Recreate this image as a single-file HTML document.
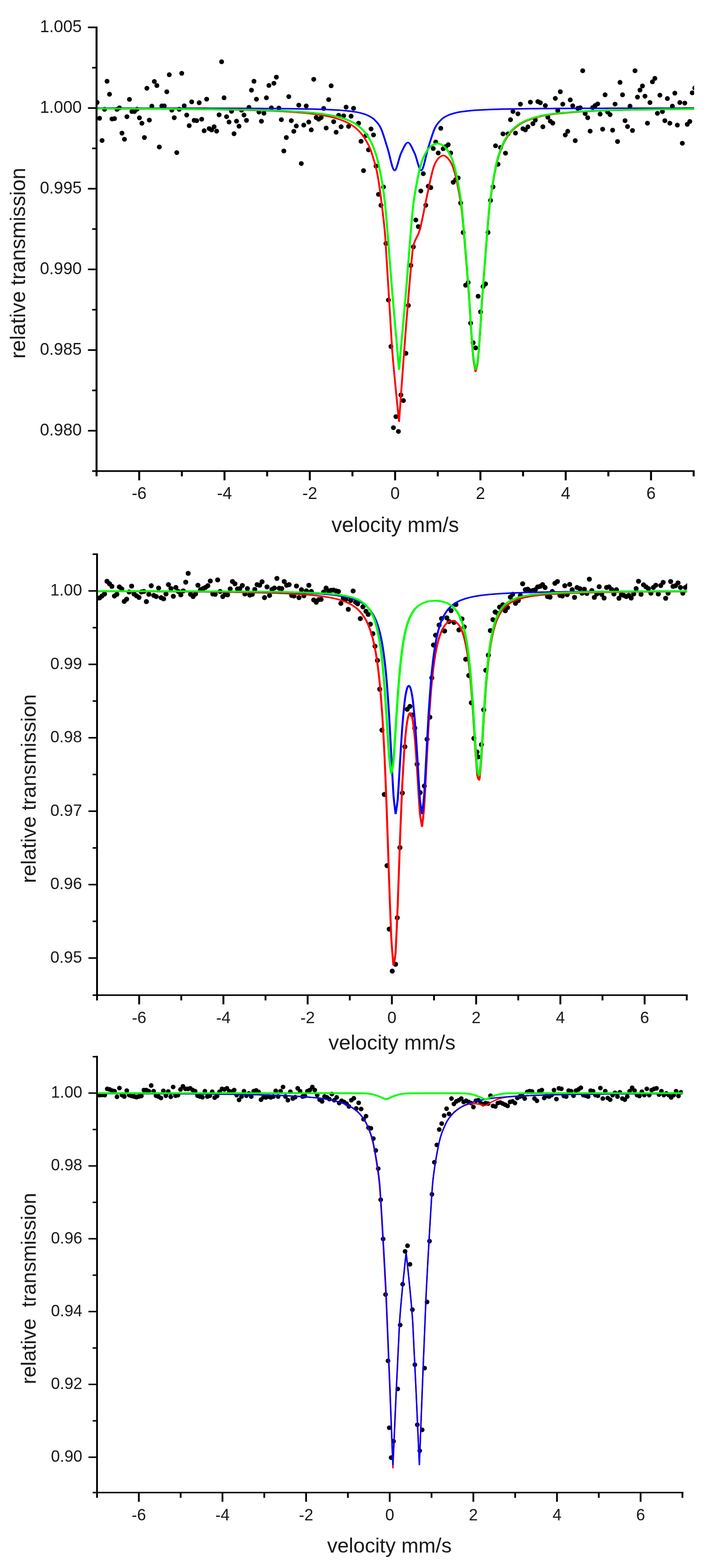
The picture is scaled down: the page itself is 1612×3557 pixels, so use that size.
<!DOCTYPE html>
<html lang="en">
<head>
<meta charset="utf-8">
<title>Moessbauer spectra</title>
<style>
html,body{margin:0;padding:0;background:#fff;}
body{width:1612px;height:3557px;overflow:hidden;}
svg{display:block;}
text{font-family:"Liberation Sans", Arial, Helvetica, sans-serif;fill:#1a1a1a;}
.axes line{stroke:#000;stroke-width:4.0;stroke-linecap:butt;}
.axes line.h{stroke-width:3.7;}
.axes line.v{stroke-width:4.5;}
.ax2 line.h{stroke-width:3.5;}
.ax2 line.v{stroke-width:4.2;}
.ax3 line.h{stroke-width:3.3;}
.ax3 line.v{stroke-width:4.0;}
.dots circle{fill:#000;}
.curve{fill:none;stroke-linejoin:bevel;stroke-linecap:butt;}
</style>
</head>
<body>
<svg width="1612" height="3557" viewBox="0 0 1612 3557">
<rect width="1612" height="3557" fill="#ffffff"/>
<g class="panel" id="panel1">
<clipPath id="clip1"><rect x="218.9" y="32.1" width="1354.8" height="1036.5"/></clipPath>
<g class="dots" clip-path="url(#clip1)">
<circle cx="220.1" cy="232.3" r="5.5"/><circle cx="225.7" cy="268.3" r="5.5"/><circle cx="231.4" cy="318.7" r="5.5"/><circle cx="237" cy="248" r="5.5"/><circle cx="242.7" cy="184.3" r="5.5"/><circle cx="248.3" cy="213.8" r="5.5"/><circle cx="253.9" cy="269.9" r="5.5"/><circle cx="259.6" cy="269.1" r="5.5"/><circle cx="265.2" cy="248" r="5.5"/><circle cx="270.9" cy="244.7" r="5.5"/><circle cx="276.5" cy="302" r="5.5"/><circle cx="282.2" cy="315.9" r="5.5"/><circle cx="287.8" cy="264.7" r="5.5"/><circle cx="293.5" cy="225.4" r="5.5"/><circle cx="299.1" cy="252.9" r="5.5"/><circle cx="304.8" cy="252.9" r="5.5"/><circle cx="310.4" cy="247.8" r="5.5"/><circle cx="316.1" cy="267.3" r="5.5"/><circle cx="321.7" cy="279.6" r="5.5"/><circle cx="327.4" cy="312" r="5.5"/><circle cx="333" cy="200.2" r="5.5"/><circle cx="338.6" cy="272.4" r="5.5"/><circle cx="344.3" cy="240.8" r="5.5"/><circle cx="349.9" cy="184.8" r="5.5"/><circle cx="355.6" cy="194" r="5.5"/><circle cx="361.2" cy="333.4" r="5.5"/><circle cx="366.9" cy="240.3" r="5.5"/><circle cx="372.5" cy="240.3" r="5.5"/><circle cx="378.2" cy="208.2" r="5.5"/><circle cx="383.8" cy="169.4" r="5.5"/><circle cx="389.5" cy="249.8" r="5.5"/><circle cx="395.1" cy="267" r="5.5"/><circle cx="400.8" cy="346.2" r="5.5"/><circle cx="406.4" cy="248" r="5.5"/><circle cx="412" cy="166.3" r="5.5"/><circle cx="417.7" cy="240.1" r="5.5"/><circle cx="423.3" cy="261.1" r="5.5"/><circle cx="429" cy="285" r="5.5"/><circle cx="434.6" cy="231.1" r="5.5"/><circle cx="440.3" cy="273" r="5.5"/><circle cx="445.9" cy="273.7" r="5.5"/><circle cx="451.6" cy="233.1" r="5.5"/><circle cx="457.2" cy="270.4" r="5.5"/><circle cx="462.9" cy="296.6" r="5.5"/><circle cx="468.5" cy="224.9" r="5.5"/><circle cx="474.2" cy="291.7" r="5.5"/><circle cx="479.8" cy="294.8" r="5.5"/><circle cx="485.4" cy="287.6" r="5.5"/><circle cx="491.1" cy="297.4" r="5.5"/><circle cx="496.7" cy="260.4" r="5.5"/><circle cx="502.4" cy="140.1" r="5.5"/><circle cx="508" cy="221.8" r="5.5"/><circle cx="513.7" cy="264.7" r="5.5"/><circle cx="519.3" cy="276.8" r="5.5"/><circle cx="525" cy="252.4" r="5.5"/><circle cx="530.6" cy="303.3" r="5.5"/><circle cx="536.3" cy="274.8" r="5.5"/><circle cx="541.9" cy="286.3" r="5.5"/><circle cx="547.6" cy="249.8" r="5.5"/><circle cx="553.2" cy="260.9" r="5.5"/><circle cx="558.8" cy="273" r="5.5"/><circle cx="564.5" cy="243.4" r="5.5"/><circle cx="570.1" cy="204.6" r="5.5"/><circle cx="575.8" cy="184.3" r="5.5"/><circle cx="581.4" cy="225.1" r="5.5"/><circle cx="587.1" cy="254.2" r="5.5"/><circle cx="592.7" cy="275" r="5.5"/><circle cx="598.4" cy="256.8" r="5.5"/><circle cx="604" cy="221.8" r="5.5"/><circle cx="609.7" cy="193.8" r="5.5"/><circle cx="615.3" cy="244.7" r="5.5"/><circle cx="621" cy="188.9" r="5.5"/><circle cx="626.6" cy="175" r="5.5"/><circle cx="632.3" cy="245.2" r="5.5"/><circle cx="637.9" cy="271.4" r="5.5"/><circle cx="643.5" cy="342.4" r="5.5"/><circle cx="649.2" cy="312" r="5.5"/><circle cx="654.8" cy="219.2" r="5.5"/><circle cx="660.5" cy="273.7" r="5.5"/><circle cx="666.1" cy="297.9" r="5.5"/><circle cx="671.8" cy="285.8" r="5.5"/><circle cx="677.4" cy="238.5" r="5.5"/><circle cx="683.1" cy="370.9" r="5.5"/><circle cx="688.7" cy="283.8" r="5.5"/><circle cx="694.4" cy="240.3" r="5.5"/><circle cx="700" cy="276.8" r="5.5"/><circle cx="705.7" cy="294.6" r="5.5"/><circle cx="711.3" cy="179.9" r="5.5"/><circle cx="716.9" cy="266.5" r="5.5"/><circle cx="722.6" cy="270.4" r="5.5"/><circle cx="728.2" cy="266.5" r="5.5"/><circle cx="733.9" cy="246" r="5.5"/><circle cx="739.5" cy="290.4" r="5.5"/><circle cx="745.2" cy="225.9" r="5.5"/><circle cx="750.8" cy="194.6" r="5.5"/><circle cx="756.5" cy="276" r="5.5"/><circle cx="762.1" cy="299.9" r="5.5"/><circle cx="767.8" cy="261.4" r="5.5"/><circle cx="773.4" cy="287.6" r="5.5"/><circle cx="779.1" cy="262.7" r="5.5"/><circle cx="784.7" cy="243" r="5.5"/><circle cx="790.3" cy="286.7" r="5.5"/><circle cx="796" cy="263.6" r="5.5"/><circle cx="801.6" cy="245.6" r="5.5"/><circle cx="812.9" cy="279.5" r="5.5"/><circle cx="818.6" cy="320.6" r="5.5"/><circle cx="824.2" cy="387" r="5.5"/><circle cx="829.9" cy="307.3" r="5.5"/><circle cx="835.5" cy="339.9" r="5.5"/><circle cx="841.2" cy="292.4" r="5.5"/><circle cx="846.8" cy="306" r="5.5"/><circle cx="852.5" cy="376.7" r="5.5"/><circle cx="858.1" cy="440.9" r="5.5"/><circle cx="863.7" cy="465.7" r="5.5"/><circle cx="869.4" cy="424.2" r="5.5"/><circle cx="875" cy="552.3" r="5.5"/><circle cx="880.7" cy="680.7" r="5.5"/><circle cx="886.3" cy="786.1" r="5.5"/><circle cx="892" cy="970.2" r="5.5"/><circle cx="897.6" cy="945.2" r="5.5"/><circle cx="903.3" cy="978.7" r="5.5"/><circle cx="908.9" cy="895.9" r="5.5"/><circle cx="914.6" cy="908.7" r="5.5"/><circle cx="920.2" cy="801.5" r="5.5"/><circle cx="925.9" cy="692.8" r="5.5"/><circle cx="931.5" cy="602" r="5.5"/><circle cx="937.2" cy="560" r="5.5"/><circle cx="942.8" cy="499.1" r="5.5"/><circle cx="948.4" cy="514" r="5.5"/><circle cx="954.1" cy="433.2" r="5.5"/><circle cx="959.7" cy="393.9" r="5.5"/><circle cx="965.4" cy="465.7" r="5.5"/><circle cx="971" cy="422.4" r="5.5"/><circle cx="976.7" cy="425.5" r="5.5"/><circle cx="982.3" cy="336.8" r="5.5"/><circle cx="988" cy="322.2" r="5.5"/><circle cx="993.6" cy="347.1" r="5.5"/><circle cx="999.3" cy="291.1" r="5.5"/><circle cx="1004.9" cy="337.3" r="5.5"/><circle cx="1010.6" cy="332.5" r="5.5"/><circle cx="1016.2" cy="328.3" r="5.5"/><circle cx="1021.8" cy="347.1" r="5.5"/><circle cx="1027.5" cy="413.4" r="5.5"/><circle cx="1033.1" cy="407.5" r="5.5"/><circle cx="1038.8" cy="403.7" r="5.5"/><circle cx="1044.4" cy="460.5" r="5.5"/><circle cx="1050.1" cy="527.3" r="5.5"/><circle cx="1055.7" cy="647" r="5.5"/><circle cx="1061.4" cy="640.8" r="5.5"/><circle cx="1067" cy="733.1" r="5.5"/><circle cx="1072.7" cy="777.5" r="5.5"/><circle cx="1078.3" cy="789.1" r="5.5"/><circle cx="1084" cy="672.1" r="5.5"/><circle cx="1089.6" cy="707.4" r="5.5"/><circle cx="1095.2" cy="650" r="5.5"/><circle cx="1100.9" cy="644" r="5.5"/><circle cx="1106.5" cy="527.3" r="5.5"/><circle cx="1112.2" cy="454.6" r="5.5"/><circle cx="1117.8" cy="424" r="5.5"/><circle cx="1123.5" cy="330.7" r="5.5"/><circle cx="1129.1" cy="372.6" r="5.5"/><circle cx="1134.8" cy="334.5" r="5.5"/><circle cx="1140.4" cy="303.7" r="5.5"/><circle cx="1146.1" cy="347.4" r="5.5"/><circle cx="1151.7" cy="303.7" r="5.5"/><circle cx="1157.4" cy="271.5" r="5.5"/><circle cx="1163" cy="252.8" r="5.5"/><circle cx="1168.7" cy="301.9" r="5.5"/><circle cx="1174.3" cy="258.2" r="5.5"/><circle cx="1179.9" cy="236.3" r="5.5"/><circle cx="1185.6" cy="292.1" r="5.5"/><circle cx="1191.2" cy="294.7" r="5.5"/><circle cx="1196.9" cy="287.7" r="5.5"/><circle cx="1202.5" cy="231.7" r="5.5"/><circle cx="1208.2" cy="280.5" r="5.5"/><circle cx="1213.8" cy="272.3" r="5.5"/><circle cx="1219.5" cy="230.4" r="5.5"/><circle cx="1225.1" cy="233" r="5.5"/><circle cx="1230.8" cy="287.5" r="5.5"/><circle cx="1236.4" cy="239.4" r="5.5"/><circle cx="1242.1" cy="265.9" r="5.5"/><circle cx="1247.7" cy="274.9" r="5.5"/><circle cx="1253.3" cy="279.3" r="5.5"/><circle cx="1259" cy="223.2" r="5.5"/><circle cx="1264.6" cy="251" r="5.5"/><circle cx="1270.3" cy="208" r="5.5"/><circle cx="1275.9" cy="236.3" r="5.5"/><circle cx="1281.6" cy="306.2" r="5.5"/><circle cx="1287.2" cy="297.8" r="5.5"/><circle cx="1292.9" cy="226.6" r="5.5"/><circle cx="1298.5" cy="239.9" r="5.5"/><circle cx="1304.2" cy="319.1" r="5.5"/><circle cx="1309.8" cy="245.8" r="5.5"/><circle cx="1315.5" cy="244.4" r="5.5"/><circle cx="1321.1" cy="160.4" r="5.5"/><circle cx="1326.7" cy="257.5" r="5.5"/><circle cx="1332.4" cy="267" r="5.5"/><circle cx="1338" cy="297.4" r="5.5"/><circle cx="1343.7" cy="243.9" r="5.5"/><circle cx="1349.3" cy="239.5" r="5.5"/><circle cx="1355" cy="235.7" r="5.5"/><circle cx="1360.6" cy="258.8" r="5.5"/><circle cx="1366.3" cy="293" r="5.5"/><circle cx="1371.9" cy="215.1" r="5.5"/><circle cx="1377.6" cy="254.2" r="5.5"/><circle cx="1383.2" cy="260.1" r="5.5"/><circle cx="1388.9" cy="295.3" r="5.5"/><circle cx="1394.5" cy="236.2" r="5.5"/><circle cx="1400.1" cy="321" r="5.5"/><circle cx="1405.8" cy="186.8" r="5.5"/><circle cx="1411.4" cy="215.1" r="5.5"/><circle cx="1417.1" cy="273.7" r="5.5"/><circle cx="1422.7" cy="287.1" r="5.5"/><circle cx="1428.4" cy="240.8" r="5.5"/><circle cx="1434" cy="296.1" r="5.5"/><circle cx="1439.7" cy="160.4" r="5.5"/><circle cx="1445.3" cy="220.3" r="5.5"/><circle cx="1451" cy="204.3" r="5.5"/><circle cx="1456.6" cy="195.1" r="5.5"/><circle cx="1462.3" cy="218.2" r="5.5"/><circle cx="1467.9" cy="279.4" r="5.5"/><circle cx="1473.6" cy="232.6" r="5.5"/><circle cx="1479.2" cy="185.6" r="5.5"/><circle cx="1484.8" cy="177.8" r="5.5"/><circle cx="1490.5" cy="257" r="5.5"/><circle cx="1496.1" cy="215.9" r="5.5"/><circle cx="1501.8" cy="253.2" r="5.5"/><circle cx="1507.4" cy="273.7" r="5.5"/><circle cx="1513.1" cy="223.6" r="5.5"/><circle cx="1518.7" cy="279.4" r="5.5"/><circle cx="1524.4" cy="240.8" r="5.5"/><circle cx="1530" cy="211.3" r="5.5"/><circle cx="1535.7" cy="283.8" r="5.5"/><circle cx="1541.3" cy="232.6" r="5.5"/><circle cx="1547" cy="324.9" r="5.5"/><circle cx="1552.6" cy="233.9" r="5.5"/><circle cx="1558.2" cy="282" r="5.5"/><circle cx="1563.9" cy="275.5" r="5.5"/><circle cx="1569.5" cy="210.5" r="5.5"/><circle cx="1575.2" cy="199.7" r="5.5"/>
</g>
<g clip-path="url(#clip1)"><path class="curve" transform="scale(1.2 1)" stroke="#ff0000" stroke-width="3.5" d="M175.68 246.42C177.87 246.43 184.44 246.46 188.83 246.48C193.21 246.5 197.59 246.52 201.97 246.54C206.35 246.56 210.73 246.59 215.11 246.61C219.49 246.63 223.87 246.65 228.25 246.68C232.63 246.7 237.01 246.73 241.39 246.75C245.77 246.78 250.15 246.81 254.53 246.84C258.91 246.86 263.29 246.89 267.68 246.92C272.06 246.95 276.44 246.98 280.82 247.02C285.2 247.05 289.58 247.08 293.96 247.12C298.34 247.16 302.72 247.19 307.1 247.23C311.48 247.27 315.86 247.31 320.24 247.35C324.62 247.39 329 247.44 333.38 247.48C337.76 247.53 342.14 247.57 346.53 247.62C350.91 247.67 355.29 247.73 359.67 247.78C364.05 247.84 368.43 247.89 372.81 247.95C377.19 248.01 381.57 248.07 385.95 248.14C390.33 248.21 394.71 248.28 399.09 248.35C403.47 248.42 407.85 248.5 412.23 248.58C416.61 248.66 420.99 248.75 425.38 248.84C429.76 248.93 434.14 249.02 438.52 249.13C442.9 249.23 447.28 249.33 451.66 249.45C456.04 249.56 460.42 249.68 464.8 249.81C469.18 249.94 473.56 250.08 477.94 250.23C482.32 250.38 486.7 250.53 491.08 250.7C495.46 250.87 499.84 251.05 504.23 251.24C508.61 251.44 512.99 251.64 517.37 251.87C521.75 252.1 526.13 252.34 530.51 252.61C534.89 252.87 539.27 253.16 543.65 253.47C548.03 253.79 552.41 254.12 556.79 254.5C561.17 254.88 565.55 255.28 569.93 255.74C574.31 256.2 578.69 256.69 583.08 257.25C587.46 257.82 591.84 258.42 596.22 259.13C600.6 259.84 604.98 260.6 609.36 261.5C613.74 262.4 618.12 263.37 622.5 264.56C626.88 265.74 631.26 267.01 635.64 268.6C640.02 270.2 644.4 271.9 648.78 274.12C653.16 276.35 657.54 278.7 661.93 281.95C666.31 285.2 670.69 288.59 675.07 293.61C679.45 298.64 683.83 303.72 688.21 312.09C692.59 320.46 696.97 328.45 701.35 343.83C705.73 359.22 711.86 385.42 714.49 404.4C717.12 423.38 725.01 495.01 727.63 533.64C730.26 572.28 738.15 748.44 740.78 790.76C743.4 833.07 753.92 956.81 753.92 956.81C753.92 956.81 764.43 781.12 767.06 741.74C769.69 702.37 777.57 585.17 780.2 563.08C782.83 541 788.96 540.45 793.34 520.91C797.72 501.37 802.1 469.68 806.48 445.85C810.86 422.03 815.24 393.16 819.63 377.95C824.01 362.73 828.39 357.77 832.77 354.58C837.15 351.38 841.53 352.64 845.91 358.78C850.29 364.92 854.67 371.99 859.05 391.43C863.43 410.86 869.56 448.49 872.19 475.41C874.82 502.34 883.58 633.86 885.33 660.64C887.09 687.43 888.88 728.07 889.75 743.24C890.63 758.41 893.21 802.29 894.08 812.32C894.96 822.35 898.48 843.54 898.48 843.54C898.48 843.54 902.04 828.49 902.92 819.46C903.79 810.42 906.38 768.14 907.25 753.18C908.12 738.23 909.87 698.13 911.62 669.88C913.37 641.62 922.13 500.29 924.76 470.64C927.39 440.99 935.27 387.81 937.9 373.38C940.53 358.95 946.66 338.39 951.04 326.34C955.42 314.29 959.8 307.78 964.18 301.08C968.56 294.39 972.94 290.23 977.33 286.15C981.71 282.07 986.09 279.27 990.47 276.6C994.85 273.94 999.23 271.98 1003.61 270.13C1007.99 268.29 1012.37 266.87 1016.75 265.53C1021.13 264.2 1025.51 263.14 1029.89 262.14C1034.27 261.14 1038.65 260.32 1043.03 259.56C1047.41 258.79 1051.79 258.15 1056.18 257.54C1060.56 256.94 1064.94 256.42 1069.32 255.94C1073.7 255.45 1078.08 255.03 1082.46 254.64C1086.84 254.24 1091.22 253.89 1095.6 253.56C1099.98 253.24 1104.36 252.94 1108.74 252.67C1113.12 252.39 1117.5 252.15 1121.88 251.91C1126.26 251.68 1130.64 251.47 1135.03 251.27C1139.41 251.07 1143.79 250.89 1148.17 250.72C1152.55 250.54 1156.93 250.39 1161.31 250.24C1165.69 250.09 1170.07 249.95 1174.45 249.82C1178.83 249.69 1183.21 249.56 1187.59 249.45C1191.97 249.33 1196.35 249.22 1200.73 249.12C1205.11 249.02 1209.49 248.92 1213.88 248.83C1218.26 248.74 1222.64 248.66 1227.02 248.57C1231.4 248.49 1235.78 248.42 1240.16 248.34C1244.54 248.27 1248.92 248.2 1253.3 248.13C1257.68 248.07 1262.06 248 1266.44 247.94C1270.82 247.88 1275.2 247.83 1279.58 247.77C1283.96 247.72 1288.34 247.67 1292.73 247.62C1297.11 247.57 1301.49 247.52 1305.87 247.47C1310.25 247.43 1316.82 247.36 1319.01 247.34"/></g>
<g clip-path="url(#clip1)"><path class="curve" transform="scale(1.2 1)" stroke="#0000ff" stroke-width="3.5" d="M171.42 245.31C173.54 245.31 179.92 245.31 184.17 245.32C188.42 245.32 192.67 245.32 196.92 245.33C201.17 245.33 205.42 245.33 209.67 245.34C213.92 245.34 218.17 245.34 222.42 245.35C226.67 245.35 230.92 245.35 235.17 245.36C239.42 245.36 243.67 245.37 247.92 245.37C252.17 245.38 256.42 245.38 260.67 245.39C264.92 245.39 269.17 245.4 273.42 245.4C277.67 245.41 281.92 245.41 286.17 245.42C290.42 245.42 294.67 245.43 298.92 245.43C303.17 245.44 307.42 245.45 311.67 245.45C315.92 245.46 320.17 245.47 324.42 245.47C328.67 245.48 332.92 245.49 337.17 245.5C341.42 245.5 345.67 245.51 349.92 245.52C354.17 245.53 358.42 245.54 362.67 245.55C366.92 245.56 371.17 245.57 375.42 245.58C379.67 245.59 383.92 245.6 388.17 245.61C392.42 245.62 396.67 245.63 400.92 245.65C405.17 245.66 409.42 245.67 413.67 245.69C417.92 245.7 422.17 245.72 426.42 245.73C430.67 245.75 434.92 245.76 439.17 245.78C443.42 245.8 447.67 245.82 451.92 245.84C456.17 245.86 460.42 245.88 464.67 245.9C468.92 245.93 473.17 245.95 477.42 245.98C481.67 246 485.92 246.03 490.17 246.06C494.42 246.09 498.67 246.12 502.92 246.15C507.17 246.19 511.42 246.23 515.67 246.27C519.92 246.31 524.17 246.35 528.42 246.39C532.67 246.44 536.92 246.49 541.17 246.55C545.42 246.6 549.67 246.66 553.92 246.73C558.17 246.8 562.42 246.87 566.67 246.95C570.92 247.03 575.17 247.11 579.42 247.21C583.67 247.31 587.92 247.42 592.17 247.54C596.42 247.67 600.67 247.8 604.92 247.96C609.17 248.11 613.42 248.28 617.67 248.49C621.92 248.69 626.17 248.91 630.42 249.18C634.67 249.46 638.92 249.75 643.17 250.13C647.42 250.5 651.67 250.9 655.92 251.45C660.17 251.99 664.42 252.56 668.67 253.38C672.92 254.2 677.17 255.04 681.42 256.39C685.67 257.74 689.92 259.03 694.17 261.45C698.42 263.87 702.67 265.97 706.92 270.91C711.17 275.85 715.42 280.07 719.67 291.1C723.92 302.12 728.17 321.13 732.42 337.05C736.67 352.98 740.92 384.99 745.17 386.65C749.42 388.31 753.67 357.61 757.92 347.03C762.17 336.45 766.42 323.04 770.67 323.18C774.92 323.32 779.17 337.3 783.42 347.87C787.67 358.44 791.92 388.57 796.17 386.58C800.42 384.6 804.67 351.94 808.92 335.94C813.17 319.94 817.42 301.45 821.67 290.57C825.92 279.7 830.17 275.56 834.42 270.68C838.67 265.81 842.92 263.73 847.17 261.33C851.42 258.94 855.67 257.66 859.92 256.32C864.17 254.99 868.42 254.16 872.67 253.34C876.92 252.52 881.17 251.96 885.42 251.42C889.67 250.88 893.92 250.48 898.17 250.11C902.42 249.73 906.67 249.44 910.92 249.17C915.17 248.9 919.42 248.68 923.67 248.48C927.92 248.27 932.17 248.1 936.42 247.95C940.67 247.79 944.92 247.66 949.17 247.54C953.42 247.41 957.67 247.31 961.92 247.21C966.17 247.11 970.42 247.02 974.67 246.94C978.92 246.86 983.17 246.79 987.42 246.73C991.67 246.66 995.92 246.6 1000.17 246.54C1004.42 246.49 1008.67 246.44 1012.92 246.39C1017.17 246.35 1021.42 246.3 1025.67 246.26C1029.92 246.22 1034.17 246.19 1038.42 246.15C1042.67 246.12 1046.92 246.09 1051.17 246.06C1055.42 246.03 1059.67 246 1063.92 245.97C1068.17 245.95 1072.42 245.92 1076.67 245.9C1080.92 245.88 1085.17 245.86 1089.42 245.84C1093.67 245.82 1097.92 245.8 1102.17 245.78C1106.42 245.76 1110.67 245.75 1114.92 245.73C1119.17 245.72 1123.42 245.7 1127.67 245.69C1131.92 245.67 1136.17 245.66 1140.42 245.65C1144.67 245.63 1148.92 245.62 1153.17 245.61C1157.42 245.6 1161.67 245.59 1165.92 245.58C1170.17 245.57 1174.42 245.56 1178.67 245.55C1182.92 245.54 1187.17 245.53 1191.42 245.52C1195.67 245.51 1199.92 245.5 1204.17 245.5C1208.42 245.49 1212.67 245.48 1216.92 245.47C1221.17 245.47 1225.42 245.46 1229.67 245.45C1233.92 245.45 1238.17 245.44 1242.42 245.43C1246.67 245.43 1250.92 245.42 1255.17 245.42C1259.42 245.41 1263.67 245.41 1267.92 245.4C1272.17 245.4 1276.42 245.39 1280.67 245.39C1284.92 245.38 1289.17 245.38 1293.42 245.37C1297.67 245.37 1301.92 245.36 1306.17 245.36C1310.42 245.35 1316.79 245.35 1318.92 245.35"/></g>
<g clip-path="url(#clip1)"><path class="curve" transform="scale(1.2 1)" stroke="#00ff00" stroke-width="3.9" d="M175.68 246.21C177.87 246.22 184.44 246.24 188.83 246.26C193.21 246.28 197.59 246.29 201.97 246.31C206.35 246.33 210.73 246.35 215.11 246.37C219.49 246.39 223.87 246.41 228.25 246.43C232.63 246.45 237.01 246.47 241.39 246.49C245.77 246.51 250.15 246.53 254.53 246.56C258.91 246.58 263.29 246.6 267.68 246.63C272.06 246.65 276.44 246.68 280.82 246.71C285.2 246.74 289.58 246.76 293.96 246.79C298.34 246.82 302.72 246.85 307.1 246.88C311.48 246.92 315.86 246.95 320.24 246.98C324.62 247.02 329 247.05 333.38 247.09C337.76 247.13 342.14 247.17 346.53 247.21C350.91 247.25 355.29 247.29 359.67 247.34C364.05 247.38 368.43 247.43 372.81 247.48C377.19 247.53 381.57 247.58 385.95 247.64C390.33 247.69 394.71 247.75 399.09 247.81C403.47 247.87 407.85 247.93 412.23 248C416.61 248.07 420.99 248.14 425.38 248.21C429.76 248.28 434.14 248.36 438.52 248.45C442.9 248.53 447.28 248.62 451.66 248.71C456.04 248.8 460.42 248.9 464.8 249.01C469.18 249.12 473.56 249.23 477.94 249.35C482.32 249.47 486.7 249.6 491.08 249.73C495.46 249.87 499.84 250.02 504.23 250.18C508.61 250.34 512.99 250.51 517.37 250.69C521.75 250.88 526.13 251.07 530.51 251.29C534.89 251.5 539.27 251.73 543.65 251.99C548.03 252.25 552.41 252.52 556.79 252.83C561.17 253.13 565.55 253.46 569.93 253.83C574.31 254.2 578.69 254.6 583.08 255.05C587.46 255.51 591.84 256 596.22 256.57C600.6 257.14 604.98 257.75 609.36 258.47C613.74 259.2 618.12 259.98 622.5 260.93C626.88 261.88 631.26 262.89 635.64 264.17C640.02 265.44 644.4 266.8 648.78 268.57C653.16 270.34 657.54 272.22 661.93 274.79C666.31 277.36 670.69 280.06 675.07 284C679.45 287.94 683.83 291.97 688.21 298.46C692.59 304.95 696.97 311.26 701.35 322.95C705.73 334.64 710.11 345.26 714.49 368.62C718.87 391.97 725.01 434.13 727.63 463.09C730.26 492.04 738.15 620.57 740.78 658.13C743.4 695.7 753.92 838.76 753.92 838.76C753.92 838.76 764.43 698.63 767.06 661.86C769.69 625.09 777.57 499.09 780.2 471.08C782.83 443.06 788.96 403.1 793.34 381.69C797.72 360.28 802.1 351.67 806.48 342.62C810.86 333.58 815.24 330 819.63 327.44C824.01 324.87 828.39 324.82 832.77 327.23C837.15 329.63 841.53 333.09 845.91 341.88C850.29 350.66 854.67 359.07 859.05 379.94C863.43 400.81 869.56 439.65 872.19 467.09C874.82 494.53 883.58 627.28 885.33 654.32C887.09 681.35 888.88 722.16 889.75 737.42C890.63 752.69 893.21 796.83 894.08 806.94C894.96 817.06 898.48 838.56 898.48 838.56C898.48 838.56 902.04 823.81 902.92 814.84C903.79 805.87 906.38 763.77 907.25 748.88C908.12 733.98 909.87 694.01 911.62 665.85C913.37 637.7 922.13 496.84 924.76 467.32C927.39 437.79 935.27 384.93 937.9 370.59C940.53 356.25 946.66 335.88 951.04 323.96C955.42 312.03 959.8 305.63 964.18 299.03C968.56 292.43 972.94 288.35 977.33 284.35C981.71 280.35 986.09 277.63 990.47 275.02C994.85 272.42 999.23 270.52 1003.61 268.73C1007.99 266.94 1012.37 265.57 1016.75 264.28C1021.13 263 1025.51 261.97 1029.89 261.02C1034.27 260.06 1038.65 259.27 1043.03 258.54C1047.41 257.81 1051.79 257.19 1056.18 256.62C1060.56 256.05 1064.94 255.55 1069.32 255.1C1073.7 254.64 1078.08 254.24 1082.46 253.86C1086.84 253.49 1091.22 253.16 1095.6 252.85C1099.98 252.55 1104.36 252.27 1108.74 252.01C1113.12 251.76 1117.5 251.53 1121.88 251.31C1126.26 251.09 1130.64 250.89 1135.03 250.71C1139.41 250.52 1143.79 250.35 1148.17 250.19C1152.55 250.03 1156.93 249.89 1161.31 249.75C1165.69 249.61 1170.07 249.48 1174.45 249.36C1178.83 249.24 1183.21 249.13 1187.59 249.02C1191.97 248.91 1196.35 248.81 1200.73 248.72C1205.11 248.63 1209.49 248.54 1213.88 248.45C1218.26 248.37 1222.64 248.29 1227.02 248.22C1231.4 248.14 1235.78 248.07 1240.16 248C1244.54 247.94 1248.92 247.87 1253.3 247.81C1257.68 247.75 1262.06 247.7 1266.44 247.64C1270.82 247.59 1275.2 247.53 1279.58 247.49C1283.96 247.44 1288.34 247.39 1292.73 247.34C1297.11 247.3 1301.49 247.26 1305.87 247.21C1310.25 247.17 1316.82 247.12 1319.01 247.1"/></g>
<g class="axes ax1">
<line class="v" x1="218.9" y1="60.3" x2="218.9" y2="1080.6"/>
<line class="h" x1="208.9" y1="1068.6" x2="1574.9" y2="1068.6"/>
<line class="h" x1="199.4" y1="62.1" x2="218.9" y2="62.1"/>
<line class="h" x1="199.4" y1="245.1" x2="218.9" y2="245.1"/>
<line class="h" x1="199.4" y1="428.1" x2="218.9" y2="428.1"/>
<line class="h" x1="199.4" y1="611.1" x2="218.9" y2="611.1"/>
<line class="h" x1="199.4" y1="794.1" x2="218.9" y2="794.1"/>
<line class="h" x1="199.4" y1="977.1" x2="218.9" y2="977.1"/>
<line class="h" x1="208.9" y1="153.6" x2="218.9" y2="153.6"/>
<line class="h" x1="208.9" y1="336.6" x2="218.9" y2="336.6"/>
<line class="h" x1="208.9" y1="519.6" x2="218.9" y2="519.6"/>
<line class="h" x1="208.9" y1="702.6" x2="218.9" y2="702.6"/>
<line class="h" x1="208.9" y1="885.6" x2="218.9" y2="885.6"/>
<line class="v" x1="315.6" y1="1068.6" x2="315.6" y2="1089.6"/>
<line class="v" x1="509" y1="1068.6" x2="509" y2="1089.6"/>
<line class="v" x1="702.4" y1="1068.6" x2="702.4" y2="1089.6"/>
<line class="v" x1="895.8" y1="1068.6" x2="895.8" y2="1089.6"/>
<line class="v" x1="1089.2" y1="1068.6" x2="1089.2" y2="1089.6"/>
<line class="v" x1="1282.6" y1="1068.6" x2="1282.6" y2="1089.6"/>
<line class="v" x1="1476" y1="1068.6" x2="1476" y2="1089.6"/>
<line class="v" x1="412.3" y1="1068.6" x2="412.3" y2="1080.6"/>
<line class="v" x1="605.7" y1="1068.6" x2="605.7" y2="1080.6"/>
<line class="v" x1="799.1" y1="1068.6" x2="799.1" y2="1080.6"/>
<line class="v" x1="992.5" y1="1068.6" x2="992.5" y2="1080.6"/>
<line class="v" x1="1185.9" y1="1068.6" x2="1185.9" y2="1080.6"/>
<line class="v" x1="1379.3" y1="1068.6" x2="1379.3" y2="1080.6"/>
<line class="v" x1="1572.7" y1="1068.6" x2="1572.7" y2="1080.6"/>
</g>
<g class="ticklabels" font-size="38">
<text x="185.5" y="73.1" text-anchor="end">1.005</text>
<text x="185.5" y="256.1" text-anchor="end">1.000</text>
<text x="185.5" y="439.1" text-anchor="end">0.995</text>
<text x="185.5" y="622.1" text-anchor="end">0.990</text>
<text x="185.5" y="805.1" text-anchor="end">0.985</text>
<text x="185.5" y="988.1" text-anchor="end">0.980</text>
<text x="315.6" y="1132.1" text-anchor="middle">-6</text>
<text x="509" y="1132.1" text-anchor="middle">-4</text>
<text x="702.4" y="1132.1" text-anchor="middle">-2</text>
<text x="895.8" y="1132.1" text-anchor="middle">0</text>
<text x="1089.2" y="1132.1" text-anchor="middle">2</text>
<text x="1282.6" y="1132.1" text-anchor="middle">4</text>
<text x="1476" y="1132.1" text-anchor="middle">6</text>
</g>
<text class="title" font-size="47.5" x="896" y="1207" text-anchor="middle" textLength="289.1" lengthAdjust="spacingAndGlyphs">velocity mm/s</text>
<text class="title" font-size="47.5" text-anchor="middle" transform="translate(57.1 597) rotate(-90)" style="white-space:pre">relative transmission</text>
</g>
<g class="panel" id="panel2">
<clipPath id="clip2"><rect x="220" y="1227.2" width="1338" height="1030.2"/></clipPath>
<g class="dots" clip-path="url(#clip2)">
<circle cx="220.3" cy="1357.1" r="5.7"/><circle cx="225.9" cy="1356.3" r="5.7"/><circle cx="231.3" cy="1352" r="5.7"/><circle cx="237" cy="1347.4" r="5.7"/><circle cx="242.6" cy="1318.6" r="5.7"/><circle cx="248.3" cy="1324.2" r="5.7"/><circle cx="253.7" cy="1330.1" r="5.7"/><circle cx="259.4" cy="1352" r="5.7"/><circle cx="265" cy="1348.1" r="5.7"/><circle cx="270.7" cy="1331.4" r="5.7"/><circle cx="276.1" cy="1336" r="5.7"/><circle cx="281.7" cy="1364.3" r="5.7"/><circle cx="287.1" cy="1359.2" r="5.7"/><circle cx="292.8" cy="1343" r="5.7"/><circle cx="298.4" cy="1329.6" r="5.7"/><circle cx="303.8" cy="1347.4" r="5.7"/><circle cx="309.5" cy="1351.5" r="5.7"/><circle cx="315.1" cy="1355.3" r="5.7"/><circle cx="320.5" cy="1343" r="5.7"/><circle cx="326.2" cy="1341.7" r="5.7"/><circle cx="331.9" cy="1364.8" r="5.7"/><circle cx="337.5" cy="1348.1" r="5.7"/><circle cx="342.9" cy="1328.8" r="5.7"/><circle cx="348.6" cy="1350.7" r="5.7"/><circle cx="354.2" cy="1353.3" r="5.7"/><circle cx="359.6" cy="1334" r="5.7"/><circle cx="365.3" cy="1355.8" r="5.7"/><circle cx="370.9" cy="1358.4" r="5.7"/><circle cx="376.3" cy="1347.4" r="5.7"/><circle cx="382" cy="1326.3" r="5.7"/><circle cx="387.6" cy="1335.3" r="5.7"/><circle cx="393" cy="1352.8" r="5.7"/><circle cx="398.7" cy="1332.7" r="5.7"/><circle cx="404.3" cy="1341.7" r="5.7"/><circle cx="410" cy="1349.4" r="5.7"/><circle cx="415.4" cy="1340.4" r="5.7"/><circle cx="421.1" cy="1320.6" r="5.7"/><circle cx="426.7" cy="1300.6" r="5.7"/><circle cx="432.1" cy="1348.1" r="5.7"/><circle cx="437.8" cy="1353.3" r="5.7"/><circle cx="443.4" cy="1347.4" r="5.7"/><circle cx="448.8" cy="1327.6" r="5.7"/><circle cx="454.5" cy="1337.8" r="5.7"/><circle cx="460.1" cy="1335.3" r="5.7"/><circle cx="465.8" cy="1332.7" r="5.7"/><circle cx="471.2" cy="1328.8" r="5.7"/><circle cx="476.8" cy="1318" r="5.7"/><circle cx="482.5" cy="1347.4" r="5.7"/><circle cx="487.9" cy="1348.1" r="5.7"/><circle cx="493.5" cy="1315.5" r="5.7"/><circle cx="499.2" cy="1341.7" r="5.7"/><circle cx="505.1" cy="1353.3" r="5.7"/><circle cx="510.3" cy="1348.1" r="5.7"/><circle cx="515.9" cy="1349.4" r="5.7"/><circle cx="521.9" cy="1336" r="5.7"/><circle cx="527" cy="1319.1" r="5.7"/><circle cx="532.6" cy="1324.2" r="5.7"/><circle cx="538.6" cy="1336" r="5.7"/><circle cx="543.7" cy="1335.3" r="5.7"/><circle cx="549.4" cy="1328.3" r="5.7"/><circle cx="555.3" cy="1347.4" r="5.7"/><circle cx="560.9" cy="1335.3" r="5.7"/><circle cx="566.3" cy="1349.9" r="5.7"/><circle cx="572" cy="1348.1" r="5.7"/><circle cx="577.6" cy="1337.1" r="5.7"/><circle cx="583" cy="1326.3" r="5.7"/><circle cx="588.7" cy="1327.6" r="5.7"/><circle cx="594.1" cy="1319.8" r="5.7"/><circle cx="599.7" cy="1355.8" r="5.7"/><circle cx="605.4" cy="1331.4" r="5.7"/><circle cx="611.1" cy="1350.7" r="5.7"/><circle cx="616.5" cy="1337.1" r="5.7"/><circle cx="622.1" cy="1334" r="5.7"/><circle cx="627.8" cy="1312.1" r="5.7"/><circle cx="633.2" cy="1334.5" r="5.7"/><circle cx="638.8" cy="1335.3" r="5.7"/><circle cx="644.5" cy="1319.1" r="5.7"/><circle cx="649.9" cy="1327.6" r="5.7"/><circle cx="655.5" cy="1326.3" r="5.7"/><circle cx="661.2" cy="1350.7" r="5.7"/><circle cx="666.6" cy="1352" r="5.7"/><circle cx="672.2" cy="1329.4" r="5.7"/><circle cx="677.9" cy="1355.8" r="5.7"/><circle cx="683.5" cy="1337.8" r="5.7"/><circle cx="688.9" cy="1351.5" r="5.7"/><circle cx="694.6" cy="1340.4" r="5.7"/><circle cx="700.3" cy="1327.6" r="5.7"/><circle cx="705.9" cy="1341.7" r="5.7"/><circle cx="711.3" cy="1361" r="5.7"/><circle cx="717" cy="1366.1" r="5.7"/><circle cx="722.6" cy="1360.2" r="5.7"/><circle cx="728" cy="1359.7" r="5.7"/><circle cx="733.7" cy="1343" r="5.7"/><circle cx="739.3" cy="1334" r="5.7"/><circle cx="745" cy="1340.4" r="5.7"/><circle cx="750.4" cy="1339.1" r="5.7"/><circle cx="756" cy="1338.6" r="5.7"/><circle cx="761.7" cy="1340.4" r="5.7"/><circle cx="767.4" cy="1341.7" r="5.7"/><circle cx="772.8" cy="1368.7" r="5.7"/><circle cx="778.4" cy="1357.1" r="5.7"/><circle cx="784.1" cy="1359.7" r="5.7"/><circle cx="789.7" cy="1382.3" r="5.7"/><circle cx="795.1" cy="1362.3" r="5.7"/><circle cx="800.6" cy="1340.6" r="5.7"/><circle cx="806.2" cy="1366" r="5.7"/><circle cx="810.8" cy="1369.7" r="5.7"/><circle cx="817" cy="1403.3" r="5.7"/><circle cx="822.8" cy="1376.6" r="5.7"/><circle cx="829.7" cy="1386.8" r="5.7"/><circle cx="834.8" cy="1393.7" r="5.7"/><circle cx="839.7" cy="1416" r="5.7"/><circle cx="845.3" cy="1437.5" r="5.7"/><circle cx="850.2" cy="1466" r="5.7"/><circle cx="855.7" cy="1498.3" r="5.7"/><circle cx="860.9" cy="1563.4" r="5.7"/><circle cx="866" cy="1656.3" r="5.7"/><circle cx="871.3" cy="1802.2" r="5.7"/><circle cx="877.4" cy="1963.8" r="5.7"/><circle cx="882.5" cy="2107.8" r="5.7"/><circle cx="889.3" cy="2203" r="5.7"/><circle cx="896.8" cy="2187.4" r="5.7"/><circle cx="900.7" cy="2082" r="5.7"/><circle cx="906.7" cy="1922.7" r="5.7"/><circle cx="912.2" cy="1799" r="5.7"/><circle cx="918" cy="1694" r="5.7"/><circle cx="923.2" cy="1609" r="5.7"/><circle cx="929.3" cy="1602.5" r="5.7"/><circle cx="934.8" cy="1622" r="5.7"/><circle cx="940.4" cy="1651.6" r="5.7"/><circle cx="945.6" cy="1733.6" r="5.7"/><circle cx="952.6" cy="1798" r="5.7"/><circle cx="962.1" cy="1783" r="5.7"/><circle cx="968.2" cy="1677" r="5.7"/><circle cx="974.5" cy="1627" r="5.7"/><circle cx="979" cy="1537.7" r="5.7"/><circle cx="982.8" cy="1463.3" r="5.7"/><circle cx="987.6" cy="1441" r="5.7"/><circle cx="995.5" cy="1418" r="5.7"/><circle cx="1001.1" cy="1403.3" r="5.7"/><circle cx="1007.9" cy="1431.4" r="5.7"/><circle cx="1013.1" cy="1401.6" r="5.7"/><circle cx="1018.2" cy="1410" r="5.7"/><circle cx="1022.7" cy="1385.1" r="5.7"/><circle cx="1029.4" cy="1412" r="5.7"/><circle cx="1033.6" cy="1371.4" r="5.7"/><circle cx="1040.5" cy="1429" r="5.7"/><circle cx="1047.4" cy="1404" r="5.7"/><circle cx="1052.5" cy="1422.1" r="5.7"/><circle cx="1055.9" cy="1495.5" r="5.7"/><circle cx="1062.8" cy="1532.5" r="5.7"/><circle cx="1068.6" cy="1594.2" r="5.7"/><circle cx="1074.4" cy="1675" r="5.7"/><circle cx="1081.5" cy="1706" r="5.7"/><circle cx="1084" cy="1717" r="5.7"/><circle cx="1091.5" cy="1689.1" r="5.7"/><circle cx="1096.7" cy="1610.3" r="5.7"/><circle cx="1101.5" cy="1520.5" r="5.7"/><circle cx="1107.3" cy="1486.2" r="5.7"/><circle cx="1111.8" cy="1430.4" r="5.7"/><circle cx="1117.6" cy="1405.7" r="5.7"/><circle cx="1122.6" cy="1388.3" r="5.7"/><circle cx="1128.5" cy="1392" r="5.7"/><circle cx="1132.7" cy="1377.2" r="5.7"/><circle cx="1140" cy="1372" r="5.7"/><circle cx="1145.6" cy="1385.4" r="5.7"/><circle cx="1150.7" cy="1378.2" r="5.7"/><circle cx="1157.1" cy="1354.6" r="5.7"/><circle cx="1162.3" cy="1348.1" r="5.7"/><circle cx="1168.7" cy="1368.7" r="5.7"/><circle cx="1175.1" cy="1362.3" r="5.7"/><circle cx="1179.7" cy="1350.7" r="5.7"/><circle cx="1184.9" cy="1324.2" r="5.7"/><circle cx="1191.1" cy="1337.8" r="5.7"/><circle cx="1196.5" cy="1336.6" r="5.7"/><circle cx="1202.4" cy="1340.4" r="5.7"/><circle cx="1208" cy="1339.6" r="5.7"/><circle cx="1213.7" cy="1337.8" r="5.7"/><circle cx="1219.1" cy="1331.4" r="5.7"/><circle cx="1224.7" cy="1330.1" r="5.7"/><circle cx="1230.1" cy="1326.3" r="5.7"/><circle cx="1235.8" cy="1332.7" r="5.7"/><circle cx="1241.4" cy="1353.3" r="5.7"/><circle cx="1247.1" cy="1354.6" r="5.7"/><circle cx="1252.2" cy="1341.7" r="5.7"/><circle cx="1258.1" cy="1323.2" r="5.7"/><circle cx="1263.8" cy="1319.1" r="5.7"/><circle cx="1269.5" cy="1350.7" r="5.7"/><circle cx="1274.9" cy="1352" r="5.7"/><circle cx="1280.5" cy="1328.8" r="5.7"/><circle cx="1285.9" cy="1348.9" r="5.7"/><circle cx="1291.6" cy="1325.8" r="5.7"/><circle cx="1297.2" cy="1337.8" r="5.7"/><circle cx="1302.6" cy="1355.1" r="5.7"/><circle cx="1308.3" cy="1332.7" r="5.7"/><circle cx="1314.6" cy="1335.3" r="5.7"/><circle cx="1319.7" cy="1345.6" r="5.7"/><circle cx="1324.9" cy="1336.6" r="5.7"/><circle cx="1330.5" cy="1346.3" r="5.7"/><circle cx="1336.2" cy="1313.9" r="5.7"/><circle cx="1341.8" cy="1339.6" r="5.7"/><circle cx="1347.5" cy="1355.1" r="5.7"/><circle cx="1353.1" cy="1347.4" r="5.7"/><circle cx="1358.5" cy="1330.9" r="5.7"/><circle cx="1364.2" cy="1348.1" r="5.7"/><circle cx="1369.6" cy="1356.6" r="5.7"/><circle cx="1375.2" cy="1332.7" r="5.7"/><circle cx="1380.9" cy="1331.4" r="5.7"/><circle cx="1386.6" cy="1337.1" r="5.7"/><circle cx="1391.9" cy="1347.4" r="5.7"/><circle cx="1397.6" cy="1337.8" r="5.7"/><circle cx="1403.3" cy="1357.1" r="5.7"/><circle cx="1408.9" cy="1348.9" r="5.7"/><circle cx="1414.3" cy="1350.7" r="5.7"/><circle cx="1420" cy="1353.3" r="5.7"/><circle cx="1425.6" cy="1350.7" r="5.7"/><circle cx="1431" cy="1356.6" r="5.7"/><circle cx="1436.7" cy="1347.4" r="5.7"/><circle cx="1442.3" cy="1335.3" r="5.7"/><circle cx="1447.7" cy="1318.6" r="5.7"/><circle cx="1453.4" cy="1348.1" r="5.7"/><circle cx="1459" cy="1326.8" r="5.7"/><circle cx="1464.7" cy="1331.4" r="5.7"/><circle cx="1470.1" cy="1335.3" r="5.7"/><circle cx="1475.8" cy="1345.6" r="5.7"/><circle cx="1481.4" cy="1332.7" r="5.7"/><circle cx="1486.8" cy="1327.6" r="5.7"/><circle cx="1492.5" cy="1347.4" r="5.7"/><circle cx="1498.1" cy="1328.3" r="5.7"/><circle cx="1503.5" cy="1321.1" r="5.7"/><circle cx="1509.2" cy="1357.1" r="5.7"/><circle cx="1514.8" cy="1345.6" r="5.7"/><circle cx="1520.5" cy="1319.1" r="5.7"/><circle cx="1525.9" cy="1330.1" r="5.7"/><circle cx="1531.5" cy="1328.8" r="5.7"/><circle cx="1537.2" cy="1322.4" r="5.7"/><circle cx="1542.8" cy="1332.7" r="5.7"/><circle cx="1548.2" cy="1345.6" r="5.7"/><circle cx="1553.9" cy="1332.7" r="5.7"/><circle cx="1559.3" cy="1328.8" r="5.7"/>
</g>
<g clip-path="url(#clip2)"><path class="curve" transform="scale(1.28 1)" stroke="#ff0000" stroke-width="3.5" d="M169.45 1341.39C170.1 1341.4 172.06 1341.4 173.36 1341.41C174.66 1341.41 175.96 1341.42 177.27 1341.42C178.57 1341.42 179.87 1341.43 181.17 1341.43C182.47 1341.44 183.78 1341.44 185.08 1341.45C186.38 1341.45 187.68 1341.46 188.98 1341.46C190.29 1341.47 191.59 1341.47 192.89 1341.47C194.19 1341.48 195.49 1341.48 196.8 1341.49C198.1 1341.49 199.4 1341.5 200.7 1341.5C202.01 1341.51 203.31 1341.51 204.61 1341.52C205.91 1341.52 207.21 1341.53 208.52 1341.53C209.82 1341.54 211.12 1341.54 212.42 1341.55C213.72 1341.55 215.03 1341.56 216.33 1341.57C217.63 1341.57 218.93 1341.58 220.23 1341.58C221.54 1341.59 222.84 1341.59 224.14 1341.6C225.44 1341.6 226.74 1341.61 228.05 1341.62C229.35 1341.62 230.65 1341.63 231.95 1341.63C233.26 1341.64 234.56 1341.65 235.86 1341.65C237.16 1341.66 238.46 1341.66 239.77 1341.67C241.07 1341.68 242.37 1341.68 243.67 1341.69C244.97 1341.7 246.28 1341.7 247.58 1341.71C248.88 1341.71 250.18 1341.72 251.48 1341.73C252.79 1341.73 254.09 1341.74 255.39 1341.75C256.69 1341.76 257.99 1341.76 259.3 1341.77C260.6 1341.78 261.9 1341.78 263.2 1341.79C264.51 1341.8 265.81 1341.81 267.11 1341.81C268.41 1341.82 269.71 1341.83 271.02 1341.84C272.32 1341.84 273.62 1341.85 274.92 1341.86C276.22 1341.87 277.53 1341.87 278.83 1341.88C280.13 1341.89 281.43 1341.9 282.73 1341.91C284.04 1341.91 285.34 1341.92 286.64 1341.93C287.94 1341.94 289.24 1341.95 290.55 1341.96C291.85 1341.97 293.15 1341.97 294.45 1341.98C295.76 1341.99 297.06 1342 298.36 1342.01C299.66 1342.02 300.96 1342.03 302.27 1342.04C303.57 1342.05 304.87 1342.06 306.17 1342.07C307.47 1342.08 308.78 1342.09 310.08 1342.1C311.38 1342.11 312.68 1342.12 313.98 1342.13C315.29 1342.14 316.59 1342.15 317.89 1342.16C319.19 1342.17 320.49 1342.18 321.8 1342.19C323.1 1342.2 324.4 1342.21 325.7 1342.22C327.01 1342.24 328.31 1342.25 329.61 1342.26C330.91 1342.27 332.21 1342.28 333.52 1342.29C334.82 1342.31 336.12 1342.32 337.42 1342.33C338.72 1342.34 340.03 1342.35 341.33 1342.37C342.63 1342.38 343.93 1342.39 345.23 1342.41C346.54 1342.42 347.84 1342.43 349.14 1342.45C350.44 1342.46 351.74 1342.47 353.05 1342.49C354.35 1342.5 355.65 1342.51 356.95 1342.53C358.26 1342.54 359.56 1342.56 360.86 1342.57C362.16 1342.59 363.46 1342.6 364.77 1342.62C366.07 1342.63 367.37 1342.65 368.67 1342.66C369.97 1342.68 371.28 1342.7 372.58 1342.71C373.88 1342.73 375.18 1342.75 376.48 1342.76C377.79 1342.78 379.09 1342.8 380.39 1342.81C381.69 1342.83 382.99 1342.85 384.3 1342.87C385.6 1342.89 386.9 1342.9 388.2 1342.92C389.51 1342.94 390.81 1342.96 392.11 1342.98C393.41 1343 394.71 1343.02 396.02 1343.04C397.32 1343.06 398.62 1343.08 399.92 1343.1C401.22 1343.12 402.53 1343.14 403.83 1343.17C405.13 1343.19 406.43 1343.21 407.73 1343.23C409.04 1343.25 410.34 1343.28 411.64 1343.3C412.94 1343.32 414.24 1343.35 415.55 1343.37C416.85 1343.4 418.15 1343.42 419.45 1343.45C420.76 1343.47 422.06 1343.5 423.36 1343.52C424.66 1343.55 425.96 1343.58 427.27 1343.61C428.57 1343.63 429.87 1343.66 431.17 1343.69C432.47 1343.72 433.78 1343.75 435.08 1343.78C436.38 1343.81 437.68 1343.84 438.98 1343.87C440.29 1343.9 441.59 1343.93 442.89 1343.96C444.19 1344 445.49 1344.03 446.8 1344.06C448.1 1344.1 449.4 1344.13 450.7 1344.17C452.01 1344.2 453.31 1344.24 454.61 1344.28C455.91 1344.31 457.21 1344.35 458.52 1344.39C459.82 1344.43 461.12 1344.47 462.42 1344.51C463.72 1344.55 465.03 1344.59 466.33 1344.63C467.63 1344.67 468.93 1344.72 470.23 1344.76C471.54 1344.81 472.84 1344.85 474.14 1344.9C475.44 1344.95 476.74 1344.99 478.05 1345.04C479.35 1345.09 480.65 1345.14 481.95 1345.19C483.26 1345.25 484.56 1345.3 485.86 1345.35C487.16 1345.41 488.46 1345.46 489.77 1345.52C491.07 1345.58 492.37 1345.64 493.67 1345.7C494.97 1345.76 496.28 1345.82 497.58 1345.88C498.88 1345.95 500.18 1346.01 501.48 1346.08C502.79 1346.15 504.09 1346.21 505.39 1346.29C506.69 1346.36 507.99 1346.43 509.3 1346.51C510.6 1346.58 511.9 1346.66 513.2 1346.74C514.51 1346.82 515.81 1346.9 517.11 1346.99C518.41 1347.07 519.71 1347.16 521.02 1347.25C522.32 1347.34 523.62 1347.43 524.92 1347.53C526.22 1347.62 527.53 1347.72 528.83 1347.82C530.13 1347.93 531.43 1348.03 532.73 1348.14C534.04 1348.25 535.34 1348.36 536.64 1348.48C537.94 1348.6 539.24 1348.72 540.55 1348.84C541.85 1348.97 543.15 1349.1 544.45 1349.23C545.76 1349.36 547.06 1349.5 548.36 1349.65C549.66 1349.79 550.96 1349.94 552.27 1350.1C553.57 1350.25 554.87 1350.41 556.17 1350.58C557.47 1350.75 558.78 1350.92 560.08 1351.1C561.38 1351.28 562.68 1351.47 563.98 1351.67C565.29 1351.86 566.59 1352.07 567.89 1352.28C569.19 1352.49 570.49 1352.71 571.8 1352.94C573.1 1353.18 574.4 1353.42 575.7 1353.67C577.01 1353.93 578.31 1354.19 579.61 1354.47C580.91 1354.74 582.21 1355.03 583.52 1355.34C584.82 1355.64 586.12 1355.96 587.42 1356.3C588.72 1356.63 590.03 1356.98 591.33 1357.36C592.63 1357.73 593.93 1358.11 595.23 1358.53C596.54 1358.94 597.84 1359.37 599.14 1359.83C600.44 1360.29 601.74 1360.77 603.05 1361.29C604.35 1361.8 605.65 1362.34 606.95 1362.92C608.26 1363.5 609.56 1364.11 610.86 1364.77C612.16 1365.42 613.46 1366.11 614.77 1366.85C616.07 1367.6 617.37 1368.38 618.67 1369.24C619.97 1370.09 621.28 1370.99 622.58 1371.97C623.88 1372.95 625.18 1373.99 626.48 1375.13C627.79 1376.27 629.09 1377.47 630.39 1378.81C631.69 1380.14 632.99 1381.55 634.3 1383.13C635.6 1384.7 636.9 1386.38 638.2 1388.25C639.51 1390.13 640.81 1392.13 642.11 1394.4C643.41 1396.66 644.71 1399.08 646.02 1401.85C647.32 1404.61 648.62 1407.57 649.92 1411C651.22 1414.44 652.53 1418.11 653.83 1422.43C655.13 1426.75 656.43 1431.39 657.73 1436.93C659.04 1442.48 660.34 1448.44 661.64 1455.69C662.94 1462.94 664.77 1474.63 665.55 1480.46C666.33 1486.28 668.67 1505.94 669.45 1513.91C670.23 1521.87 672.58 1548.99 673.36 1560.1C674.14 1571.21 676.48 1609.38 677.27 1625.02C678.05 1640.66 680.39 1694.92 681.17 1716.47C681.95 1738.02 684.3 1813.27 685.08 1840.51C685.86 1867.76 688.2 1960.71 688.98 1988.95C689.77 2017.19 692.11 2102.84 692.89 2122.9C693.67 2142.96 696.8 2189.57 696.8 2189.57C696.8 2189.57 699.92 2175.53 700.7 2161.44C701.48 2147.36 703.83 2074.28 704.61 2048.7C705.39 2023.12 707.73 1932.17 708.52 1905.66C709.3 1879.15 711.64 1804.34 712.42 1783.59C713.2 1762.85 715.55 1711.97 716.33 1698.22C717.11 1684.47 719.45 1653.8 720.23 1646.08C721.02 1638.37 722.84 1625.43 724.14 1621.04C725.44 1616.64 726.74 1616.17 728.05 1619.72C729.35 1623.26 731.17 1635.14 731.95 1642.28C732.73 1649.42 735.08 1678.84 735.86 1691.11C736.64 1703.37 738.98 1749.72 739.77 1764.93C740.55 1780.15 742.89 1832.21 743.67 1843.27C744.45 1854.32 747.58 1875.51 747.58 1875.51C747.58 1875.51 750.7 1841.72 751.48 1827.45C752.27 1813.17 754.61 1751.45 755.39 1732.78C756.17 1714.11 758.52 1657.03 759.3 1640.77C760.08 1624.51 762.42 1582.24 763.2 1570.17C763.98 1558.09 766.33 1528.57 767.11 1520.06C767.89 1511.54 770.23 1490.99 771.02 1485.02C771.8 1479.05 773.62 1467.38 774.92 1460.33C776.22 1453.28 777.53 1447.77 778.83 1442.73C780.13 1437.69 781.43 1433.7 782.73 1430.09C784.04 1426.48 785.34 1423.61 786.64 1421.06C787.94 1418.5 789.24 1416.5 790.55 1414.78C791.85 1413.05 793.15 1411.75 794.45 1410.72C795.76 1409.69 797.06 1409.01 798.36 1408.61C799.66 1408.21 800.96 1408.11 802.27 1408.33C803.57 1408.56 804.87 1409.06 806.17 1409.96C807.47 1410.86 808.78 1412.04 810.08 1413.75C811.38 1415.46 812.68 1417.47 813.98 1420.19C815.29 1422.92 816.59 1426.01 817.89 1430.12C819.19 1434.23 820.49 1438.8 821.8 1444.87C823.1 1450.93 824.92 1461.18 825.7 1466.53C826.48 1471.87 828.83 1490.5 829.61 1498.29C830.39 1506.09 832.73 1533.43 833.52 1544.52C834.3 1555.6 836.64 1594.72 837.42 1609.12C838.2 1623.51 840.55 1673.73 841.33 1688.47C842.11 1703.2 844.45 1748.54 845.23 1756.47C846.02 1764.4 848.36 1772.22 849.14 1767.78C849.92 1763.34 852.27 1725.81 853.05 1712.06C853.83 1698.3 856.17 1645.68 856.95 1630.24C857.73 1614.81 860.08 1570.34 860.86 1557.68C861.64 1545.02 863.98 1512.88 864.77 1503.66C865.55 1494.44 867.89 1472 868.67 1465.5C869.45 1459 871.28 1446.31 872.58 1438.62C873.88 1430.94 875.18 1424.94 876.48 1419.38C877.79 1413.83 879.09 1409.4 880.39 1405.29C881.69 1401.18 882.99 1397.84 884.3 1394.73C885.6 1391.62 886.9 1389.04 888.2 1386.64C889.51 1384.23 890.81 1382.2 892.11 1380.31C893.41 1378.41 894.71 1376.79 896.02 1375.27C897.32 1373.75 898.62 1372.43 899.92 1371.19C901.22 1369.95 902.53 1368.86 903.83 1367.84C905.13 1366.81 906.43 1365.9 907.73 1365.05C909.04 1364.19 910.34 1363.42 911.64 1362.7C912.94 1361.97 914.24 1361.32 915.55 1360.7C916.85 1360.08 918.15 1359.52 919.45 1358.99C920.76 1358.45 922.06 1357.96 923.36 1357.5C924.66 1357.04 925.96 1356.61 927.27 1356.2C928.57 1355.8 929.87 1355.42 931.17 1355.06C932.47 1354.71 933.78 1354.37 935.08 1354.06C936.38 1353.74 937.68 1353.44 938.98 1353.16C940.29 1352.88 941.59 1352.61 942.89 1352.36C944.19 1352.1 945.49 1351.87 946.8 1351.64C948.1 1351.41 949.4 1351.19 950.7 1350.99C952.01 1350.78 953.31 1350.59 954.61 1350.4C955.91 1350.21 957.21 1350.03 958.52 1349.86C959.82 1349.69 961.12 1349.53 962.42 1349.37C963.72 1349.22 965.03 1349.07 966.33 1348.92C967.63 1348.78 968.93 1348.64 970.23 1348.51C971.54 1348.38 972.84 1348.25 974.14 1348.13C975.44 1348.01 976.74 1347.89 978.05 1347.78C979.35 1347.67 980.65 1347.56 981.95 1347.45C983.26 1347.35 984.56 1347.25 985.86 1347.15C987.16 1347.05 988.46 1346.96 989.77 1346.87C991.07 1346.78 992.37 1346.69 993.67 1346.61C994.97 1346.52 996.28 1346.44 997.58 1346.36C998.88 1346.28 1000.18 1346.21 1001.48 1346.13C1002.79 1346.06 1004.09 1345.99 1005.39 1345.92C1006.69 1345.85 1007.99 1345.78 1009.3 1345.71C1010.6 1345.65 1011.9 1345.58 1013.2 1345.52C1014.51 1345.46 1015.81 1345.4 1017.11 1345.34C1018.41 1345.29 1019.71 1345.23 1021.02 1345.17C1022.32 1345.12 1023.62 1345.07 1024.92 1345.01C1026.22 1344.96 1027.53 1344.91 1028.83 1344.86C1030.13 1344.81 1031.43 1344.77 1032.73 1344.72C1034.04 1344.67 1035.34 1344.63 1036.64 1344.58C1037.94 1344.54 1039.24 1344.5 1040.55 1344.45C1041.85 1344.41 1043.15 1344.37 1044.45 1344.33C1045.76 1344.29 1047.06 1344.25 1048.36 1344.21C1049.66 1344.18 1050.96 1344.14 1052.27 1344.1C1053.57 1344.07 1054.87 1344.03 1056.17 1344C1057.47 1343.96 1058.78 1343.93 1060.08 1343.9C1061.38 1343.86 1062.68 1343.83 1063.98 1343.8C1065.29 1343.77 1066.59 1343.74 1067.89 1343.71C1069.19 1343.68 1070.49 1343.65 1071.8 1343.62C1073.1 1343.59 1074.4 1343.56 1075.7 1343.53C1077.01 1343.51 1078.31 1343.48 1079.61 1343.45C1080.91 1343.43 1082.21 1343.4 1083.52 1343.38C1084.82 1343.35 1086.12 1343.33 1087.42 1343.3C1088.72 1343.28 1090.03 1343.25 1091.33 1343.23C1092.63 1343.21 1093.93 1343.18 1095.23 1343.16C1096.54 1343.14 1097.84 1343.12 1099.14 1343.1C1100.44 1343.07 1101.74 1343.05 1103.05 1343.03C1104.35 1343.01 1105.65 1342.99 1106.95 1342.97C1108.26 1342.95 1109.56 1342.93 1110.86 1342.91C1112.16 1342.89 1113.46 1342.87 1114.77 1342.86C1116.07 1342.84 1117.37 1342.82 1118.67 1342.8C1119.97 1342.78 1121.28 1342.77 1122.58 1342.75C1123.88 1342.73 1125.18 1342.71 1126.48 1342.7C1127.79 1342.68 1129.09 1342.66 1130.39 1342.65C1131.69 1342.63 1132.99 1342.62 1134.3 1342.6C1135.6 1342.59 1136.9 1342.57 1138.2 1342.56C1139.51 1342.54 1140.81 1342.53 1142.11 1342.51C1143.41 1342.5 1144.71 1342.48 1146.02 1342.47C1147.32 1342.45 1148.62 1342.44 1149.92 1342.43C1151.22 1342.41 1152.53 1342.4 1153.83 1342.39C1155.13 1342.37 1156.43 1342.36 1157.73 1342.35C1159.04 1342.34 1160.34 1342.32 1161.64 1342.31C1162.94 1342.3 1164.24 1342.29 1165.55 1342.27C1166.85 1342.26 1168.15 1342.25 1169.45 1342.24C1170.76 1342.23 1172.06 1342.22 1173.36 1342.2C1174.66 1342.19 1175.96 1342.18 1177.27 1342.17C1178.57 1342.16 1179.87 1342.15 1181.17 1342.14C1182.47 1342.13 1183.78 1342.12 1185.08 1342.11C1186.38 1342.1 1187.68 1342.09 1188.98 1342.08C1190.29 1342.07 1191.59 1342.06 1192.89 1342.05C1194.19 1342.04 1195.49 1342.03 1196.8 1342.02C1198.1 1342.01 1199.4 1342 1200.7 1341.99C1202.01 1341.98 1203.31 1341.97 1204.61 1341.96C1205.91 1341.96 1207.21 1341.95 1208.52 1341.94C1209.82 1341.93 1211.12 1341.92 1212.42 1341.91C1213.72 1341.9 1215.03 1341.9 1216.33 1341.89C1217.63 1341.88 1219.58 1341.87 1220.23 1341.86"/></g>
<g clip-path="url(#clip2)"><path class="curve" transform="scale(1.28 1)" stroke="#0000ff" stroke-width="3.5" d="M169.45 1341C170.1 1341 172.06 1341 173.36 1341.01C174.66 1341.01 175.96 1341.01 177.27 1341.01C178.57 1341.01 179.87 1341.02 181.17 1341.02C182.47 1341.02 183.78 1341.02 185.08 1341.03C186.38 1341.03 187.68 1341.03 188.98 1341.04C190.29 1341.04 191.59 1341.04 192.89 1341.04C194.19 1341.05 195.49 1341.05 196.8 1341.05C198.1 1341.05 199.4 1341.06 200.7 1341.06C202.01 1341.06 203.31 1341.07 204.61 1341.07C205.91 1341.07 207.21 1341.07 208.52 1341.08C209.82 1341.08 211.12 1341.08 212.42 1341.09C213.72 1341.09 215.03 1341.09 216.33 1341.09C217.63 1341.1 218.93 1341.1 220.23 1341.1C221.54 1341.11 222.84 1341.11 224.14 1341.11C225.44 1341.12 226.74 1341.12 228.05 1341.12C229.35 1341.13 230.65 1341.13 231.95 1341.13C233.26 1341.14 234.56 1341.14 235.86 1341.14C237.16 1341.15 238.46 1341.15 239.77 1341.15C241.07 1341.16 242.37 1341.16 243.67 1341.16C244.97 1341.17 246.28 1341.17 247.58 1341.18C248.88 1341.18 250.18 1341.18 251.48 1341.19C252.79 1341.19 254.09 1341.19 255.39 1341.2C256.69 1341.2 257.99 1341.21 259.3 1341.21C260.6 1341.21 261.9 1341.22 263.2 1341.22C264.51 1341.23 265.81 1341.23 267.11 1341.24C268.41 1341.24 269.71 1341.24 271.02 1341.25C272.32 1341.25 273.62 1341.26 274.92 1341.26C276.22 1341.27 277.53 1341.27 278.83 1341.27C280.13 1341.28 281.43 1341.28 282.73 1341.29C284.04 1341.29 285.34 1341.3 286.64 1341.3C287.94 1341.31 289.24 1341.31 290.55 1341.32C291.85 1341.32 293.15 1341.33 294.45 1341.33C295.76 1341.34 297.06 1341.34 298.36 1341.35C299.66 1341.35 300.96 1341.36 302.27 1341.36C303.57 1341.37 304.87 1341.37 306.17 1341.38C307.47 1341.39 308.78 1341.39 310.08 1341.4C311.38 1341.4 312.68 1341.41 313.98 1341.41C315.29 1341.42 316.59 1341.43 317.89 1341.43C319.19 1341.44 320.49 1341.44 321.8 1341.45C323.1 1341.46 324.4 1341.46 325.7 1341.47C327.01 1341.48 328.31 1341.48 329.61 1341.49C330.91 1341.5 332.21 1341.5 333.52 1341.51C334.82 1341.52 336.12 1341.52 337.42 1341.53C338.72 1341.54 340.03 1341.54 341.33 1341.55C342.63 1341.56 343.93 1341.57 345.23 1341.57C346.54 1341.58 347.84 1341.59 349.14 1341.6C350.44 1341.6 351.74 1341.61 353.05 1341.62C354.35 1341.63 355.65 1341.64 356.95 1341.64C358.26 1341.65 359.56 1341.66 360.86 1341.67C362.16 1341.68 363.46 1341.69 364.77 1341.69C366.07 1341.7 367.37 1341.71 368.67 1341.72C369.97 1341.73 371.28 1341.74 372.58 1341.75C373.88 1341.76 375.18 1341.77 376.48 1341.78C377.79 1341.79 379.09 1341.8 380.39 1341.81C381.69 1341.82 382.99 1341.83 384.3 1341.84C385.6 1341.85 386.9 1341.86 388.2 1341.87C389.51 1341.88 390.81 1341.89 392.11 1341.9C393.41 1341.91 394.71 1341.92 396.02 1341.94C397.32 1341.95 398.62 1341.96 399.92 1341.97C401.22 1341.98 402.53 1342 403.83 1342.01C405.13 1342.02 406.43 1342.03 407.73 1342.05C409.04 1342.06 410.34 1342.07 411.64 1342.09C412.94 1342.1 414.24 1342.11 415.55 1342.13C416.85 1342.14 418.15 1342.15 419.45 1342.17C420.76 1342.18 422.06 1342.2 423.36 1342.21C424.66 1342.23 425.96 1342.24 427.27 1342.26C428.57 1342.28 429.87 1342.29 431.17 1342.31C432.47 1342.32 433.78 1342.34 435.08 1342.36C436.38 1342.38 437.68 1342.39 438.98 1342.41C440.29 1342.43 441.59 1342.45 442.89 1342.46C444.19 1342.48 445.49 1342.5 446.8 1342.52C448.1 1342.54 449.4 1342.56 450.7 1342.58C452.01 1342.6 453.31 1342.62 454.61 1342.64C455.91 1342.66 457.21 1342.69 458.52 1342.71C459.82 1342.73 461.12 1342.75 462.42 1342.78C463.72 1342.8 465.03 1342.82 466.33 1342.85C467.63 1342.87 468.93 1342.9 470.23 1342.92C471.54 1342.95 472.84 1342.97 474.14 1343C475.44 1343.03 476.74 1343.05 478.05 1343.08C479.35 1343.11 480.65 1343.14 481.95 1343.17C483.26 1343.2 484.56 1343.23 485.86 1343.26C487.16 1343.29 488.46 1343.32 489.77 1343.35C491.07 1343.38 492.37 1343.42 493.67 1343.45C494.97 1343.49 496.28 1343.52 497.58 1343.56C498.88 1343.59 500.18 1343.63 501.48 1343.67C502.79 1343.71 504.09 1343.75 505.39 1343.79C506.69 1343.83 507.99 1343.87 509.3 1343.91C510.6 1343.95 511.9 1344 513.2 1344.04C514.51 1344.09 515.81 1344.14 517.11 1344.18C518.41 1344.23 519.71 1344.28 521.02 1344.33C522.32 1344.38 523.62 1344.43 524.92 1344.49C526.22 1344.54 527.53 1344.6 528.83 1344.66C530.13 1344.71 531.43 1344.77 532.73 1344.83C534.04 1344.9 535.34 1344.96 536.64 1345.02C537.94 1345.09 539.24 1345.16 540.55 1345.23C541.85 1345.3 543.15 1345.37 544.45 1345.44C545.76 1345.52 547.06 1345.6 548.36 1345.68C549.66 1345.76 550.96 1345.84 552.27 1345.93C553.57 1346.01 554.87 1346.1 556.17 1346.2C557.47 1346.29 558.78 1346.38 560.08 1346.48C561.38 1346.58 562.68 1346.69 563.98 1346.8C565.29 1346.91 566.59 1347.02 567.89 1347.13C569.19 1347.25 570.49 1347.37 571.8 1347.5C573.1 1347.63 574.4 1347.76 575.7 1347.9C577.01 1348.04 578.31 1348.18 579.61 1348.33C580.91 1348.48 582.21 1348.64 583.52 1348.81C584.82 1348.97 586.12 1349.14 587.42 1349.32C588.72 1349.51 590.03 1349.69 591.33 1349.89C592.63 1350.09 593.93 1350.3 595.23 1350.52C596.54 1350.74 597.84 1350.97 599.14 1351.22C600.44 1351.46 601.74 1351.72 603.05 1351.99C604.35 1352.26 605.65 1352.54 606.95 1352.85C608.26 1353.15 609.56 1353.47 610.86 1353.81C612.16 1354.15 613.46 1354.51 614.77 1354.89C616.07 1355.27 617.37 1355.68 618.67 1356.11C619.97 1356.55 621.28 1357.01 622.58 1357.5C623.88 1358 625.18 1358.53 626.48 1359.1C627.79 1359.67 629.09 1360.27 630.39 1360.93C631.69 1361.59 632.99 1362.28 634.3 1363.05C635.6 1363.82 636.9 1364.64 638.2 1365.54C639.51 1366.44 640.81 1367.4 642.11 1368.48C643.41 1369.55 644.71 1370.69 646.02 1371.98C647.32 1373.26 648.62 1374.64 649.92 1376.2C651.22 1377.76 652.53 1379.43 653.83 1381.36C655.13 1383.28 656.43 1385.34 657.73 1387.75C659.04 1390.16 660.34 1392.75 661.64 1395.81C662.94 1398.88 664.24 1402.17 665.55 1406.16C666.85 1410.14 668.15 1414.43 669.45 1419.71C670.76 1425 672.06 1430.69 673.36 1437.88C674.66 1445.06 676.48 1456.81 677.27 1462.8C678.05 1468.79 680.39 1489.3 681.17 1497.77C681.95 1506.24 684.3 1535.54 685.08 1547.5C685.86 1559.46 688.2 1601.32 688.98 1617.4C689.77 1633.47 692.11 1689.9 692.89 1708.29C693.67 1726.67 696.02 1787.4 696.8 1801.26C697.58 1815.12 700.7 1846.89 700.7 1846.89C700.7 1846.89 703.83 1823.29 704.61 1811.54C705.39 1799.8 707.73 1745.53 708.52 1729.47C709.3 1713.41 711.64 1664.29 712.42 1650.93C713.2 1637.58 715.55 1604.52 716.33 1595.94C717.11 1587.36 719.45 1569.22 720.23 1565.16C721.02 1561.11 722.84 1555.39 724.14 1555.4C725.44 1555.41 727.27 1561.16 728.05 1565.23C728.83 1569.3 731.17 1587.5 731.95 1596.09C732.73 1604.69 735.08 1637.81 735.86 1651.18C736.64 1664.55 738.98 1713.72 739.77 1729.78C740.55 1745.84 742.89 1800.08 743.67 1811.79C744.45 1823.5 747.58 1846.87 747.58 1846.87C747.58 1846.87 750.7 1814.87 751.48 1800.97C752.27 1787.08 754.61 1726.32 755.39 1707.93C756.17 1689.55 758.52 1633.17 759.3 1617.1C760.08 1601.04 762.42 1559.24 763.2 1547.29C763.98 1535.34 766.33 1506.08 767.11 1497.62C767.89 1489.16 770.23 1468.68 771.02 1462.7C771.8 1456.71 773.62 1444.97 774.92 1437.8C776.22 1430.63 777.53 1424.94 778.83 1419.66C780.13 1414.37 781.43 1410.09 782.73 1406.12C784.04 1402.14 785.34 1398.85 786.64 1395.78C787.94 1392.72 789.24 1390.14 790.55 1387.73C791.85 1385.32 793.15 1383.26 794.45 1381.34C795.76 1379.41 797.06 1377.74 798.36 1376.18C799.66 1374.62 800.96 1373.25 802.27 1371.96C803.57 1370.68 804.87 1369.54 806.17 1368.46C807.47 1367.39 808.78 1366.43 810.08 1365.53C811.38 1364.63 812.68 1363.81 813.98 1363.05C815.29 1362.28 816.59 1361.58 817.89 1360.92C819.19 1360.26 820.49 1359.66 821.8 1359.09C823.1 1358.52 824.4 1358 825.7 1357.5C827.01 1357 828.31 1356.54 829.61 1356.11C830.91 1355.67 832.21 1355.27 833.52 1354.89C834.82 1354.5 836.12 1354.15 837.42 1353.8C838.72 1353.46 840.03 1353.15 841.33 1352.84C842.63 1352.54 843.93 1352.26 845.23 1351.98C846.54 1351.71 847.84 1351.46 849.14 1351.21C850.44 1350.97 851.74 1350.74 853.05 1350.52C854.35 1350.3 855.65 1350.09 856.95 1349.89C858.26 1349.69 859.56 1349.5 860.86 1349.32C862.16 1349.14 863.46 1348.97 864.77 1348.8C866.07 1348.64 867.37 1348.48 868.67 1348.33C869.97 1348.18 871.28 1348.04 872.58 1347.9C873.88 1347.76 875.18 1347.63 876.48 1347.5C877.79 1347.37 879.09 1347.25 880.39 1347.13C881.69 1347.02 882.99 1346.9 884.3 1346.8C885.6 1346.69 886.9 1346.58 888.2 1346.48C889.51 1346.38 890.81 1346.29 892.11 1346.19C893.41 1346.1 894.71 1346.01 896.02 1345.93C897.32 1345.84 898.62 1345.76 899.92 1345.68C901.22 1345.6 902.53 1345.52 903.83 1345.44C905.13 1345.37 906.43 1345.3 907.73 1345.23C909.04 1345.16 910.34 1345.09 911.64 1345.02C912.94 1344.96 914.24 1344.89 915.55 1344.83C916.85 1344.77 918.15 1344.71 919.45 1344.66C920.76 1344.6 922.06 1344.54 923.36 1344.49C924.66 1344.43 925.96 1344.38 927.27 1344.33C928.57 1344.28 929.87 1344.23 931.17 1344.18C932.47 1344.13 933.78 1344.09 935.08 1344.04C936.38 1344 937.68 1343.95 938.98 1343.91C940.29 1343.87 941.59 1343.83 942.89 1343.79C944.19 1343.75 945.49 1343.71 946.8 1343.67C948.1 1343.63 949.4 1343.59 950.7 1343.56C952.01 1343.52 953.31 1343.49 954.61 1343.45C955.91 1343.42 957.21 1343.38 958.52 1343.35C959.82 1343.32 961.12 1343.29 962.42 1343.26C963.72 1343.23 965.03 1343.2 966.33 1343.17C967.63 1343.14 968.93 1343.11 970.23 1343.08C971.54 1343.05 972.84 1343.03 974.14 1343C975.44 1342.97 976.74 1342.95 978.05 1342.92C979.35 1342.9 980.65 1342.87 981.95 1342.85C983.26 1342.82 984.56 1342.8 985.86 1342.78C987.16 1342.75 988.46 1342.73 989.77 1342.71C991.07 1342.69 992.37 1342.66 993.67 1342.64C994.97 1342.62 996.28 1342.6 997.58 1342.58C998.88 1342.56 1000.18 1342.54 1001.48 1342.52C1002.79 1342.5 1004.09 1342.48 1005.39 1342.46C1006.69 1342.45 1007.99 1342.43 1009.3 1342.41C1010.6 1342.39 1011.9 1342.37 1013.2 1342.36C1014.51 1342.34 1015.81 1342.32 1017.11 1342.31C1018.41 1342.29 1019.71 1342.28 1021.02 1342.26C1022.32 1342.24 1023.62 1342.23 1024.92 1342.21C1026.22 1342.2 1027.53 1342.18 1028.83 1342.17C1030.13 1342.15 1031.43 1342.14 1032.73 1342.13C1034.04 1342.11 1035.34 1342.1 1036.64 1342.09C1037.94 1342.07 1039.24 1342.06 1040.55 1342.05C1041.85 1342.03 1043.15 1342.02 1044.45 1342.01C1045.76 1342 1047.06 1341.98 1048.36 1341.97C1049.66 1341.96 1050.96 1341.95 1052.27 1341.94C1053.57 1341.92 1054.87 1341.91 1056.17 1341.9C1057.47 1341.89 1058.78 1341.88 1060.08 1341.87C1061.38 1341.86 1062.68 1341.85 1063.98 1341.84C1065.29 1341.83 1066.59 1341.82 1067.89 1341.81C1069.19 1341.8 1070.49 1341.79 1071.8 1341.78C1073.1 1341.77 1074.4 1341.76 1075.7 1341.75C1077.01 1341.74 1078.31 1341.73 1079.61 1341.72C1080.91 1341.71 1082.21 1341.7 1083.52 1341.69C1084.82 1341.69 1086.12 1341.68 1087.42 1341.67C1088.72 1341.66 1090.03 1341.65 1091.33 1341.64C1092.63 1341.64 1093.93 1341.63 1095.23 1341.62C1096.54 1341.61 1097.84 1341.6 1099.14 1341.6C1100.44 1341.59 1101.74 1341.58 1103.05 1341.57C1104.35 1341.57 1105.65 1341.56 1106.95 1341.55C1108.26 1341.54 1109.56 1341.54 1110.86 1341.53C1112.16 1341.52 1113.46 1341.52 1114.77 1341.51C1116.07 1341.5 1117.37 1341.5 1118.67 1341.49C1119.97 1341.48 1121.28 1341.48 1122.58 1341.47C1123.88 1341.46 1125.18 1341.46 1126.48 1341.45C1127.79 1341.44 1129.09 1341.44 1130.39 1341.43C1131.69 1341.43 1132.99 1341.42 1134.3 1341.41C1135.6 1341.41 1136.9 1341.4 1138.2 1341.4C1139.51 1341.39 1140.81 1341.39 1142.11 1341.38C1143.41 1341.37 1144.71 1341.37 1146.02 1341.36C1147.32 1341.36 1148.62 1341.35 1149.92 1341.35C1151.22 1341.34 1152.53 1341.34 1153.83 1341.33C1155.13 1341.33 1156.43 1341.32 1157.73 1341.32C1159.04 1341.31 1160.34 1341.31 1161.64 1341.3C1162.94 1341.3 1164.24 1341.29 1165.55 1341.29C1166.85 1341.28 1168.15 1341.28 1169.45 1341.27C1170.76 1341.27 1172.06 1341.27 1173.36 1341.26C1174.66 1341.26 1175.96 1341.25 1177.27 1341.25C1178.57 1341.24 1179.87 1341.24 1181.17 1341.24C1182.47 1341.23 1183.78 1341.23 1185.08 1341.22C1186.38 1341.22 1187.68 1341.21 1188.98 1341.21C1190.29 1341.21 1191.59 1341.2 1192.89 1341.2C1194.19 1341.19 1195.49 1341.19 1196.8 1341.19C1198.1 1341.18 1199.4 1341.18 1200.7 1341.18C1202.01 1341.17 1203.31 1341.17 1204.61 1341.16C1205.91 1341.16 1207.21 1341.16 1208.52 1341.15C1209.82 1341.15 1211.12 1341.15 1212.42 1341.14C1213.72 1341.14 1215.03 1341.14 1216.33 1341.13C1217.63 1341.13 1219.58 1341.13 1220.23 1341.12"/></g>
<g clip-path="url(#clip2)"><path class="curve" transform="scale(1.28 1)" stroke="#00ff00" stroke-width="4.0" d="M169.45 1340.9C170.1 1340.9 172.06 1340.9 173.36 1340.9C174.66 1340.9 175.96 1340.91 177.27 1340.91C178.57 1340.91 179.87 1340.91 181.17 1340.91C182.47 1340.92 183.78 1340.92 185.08 1340.92C186.38 1340.92 187.68 1340.92 188.98 1340.93C190.29 1340.93 191.59 1340.93 192.89 1340.93C194.19 1340.93 195.49 1340.94 196.8 1340.94C198.1 1340.94 199.4 1340.94 200.7 1340.94C202.01 1340.95 203.31 1340.95 204.61 1340.95C205.91 1340.95 207.21 1340.95 208.52 1340.96C209.82 1340.96 211.12 1340.96 212.42 1340.96C213.72 1340.97 215.03 1340.97 216.33 1340.97C217.63 1340.97 218.93 1340.98 220.23 1340.98C221.54 1340.98 222.84 1340.98 224.14 1340.99C225.44 1340.99 226.74 1340.99 228.05 1340.99C229.35 1341 230.65 1341 231.95 1341C233.26 1341 234.56 1341.01 235.86 1341.01C237.16 1341.01 238.46 1341.01 239.77 1341.02C241.07 1341.02 242.37 1341.02 243.67 1341.02C244.97 1341.03 246.28 1341.03 247.58 1341.03C248.88 1341.04 250.18 1341.04 251.48 1341.04C252.79 1341.04 254.09 1341.05 255.39 1341.05C256.69 1341.05 257.99 1341.06 259.3 1341.06C260.6 1341.06 261.9 1341.06 263.2 1341.07C264.51 1341.07 265.81 1341.07 267.11 1341.08C268.41 1341.08 269.71 1341.08 271.02 1341.09C272.32 1341.09 273.62 1341.09 274.92 1341.1C276.22 1341.1 277.53 1341.1 278.83 1341.11C280.13 1341.11 281.43 1341.11 282.73 1341.12C284.04 1341.12 285.34 1341.12 286.64 1341.13C287.94 1341.13 289.24 1341.14 290.55 1341.14C291.85 1341.14 293.15 1341.15 294.45 1341.15C295.76 1341.15 297.06 1341.16 298.36 1341.16C299.66 1341.17 300.96 1341.17 302.27 1341.17C303.57 1341.18 304.87 1341.18 306.17 1341.19C307.47 1341.19 308.78 1341.2 310.08 1341.2C311.38 1341.2 312.68 1341.21 313.98 1341.21C315.29 1341.22 316.59 1341.22 317.89 1341.23C319.19 1341.23 320.49 1341.24 321.8 1341.24C323.1 1341.24 324.4 1341.25 325.7 1341.25C327.01 1341.26 328.31 1341.26 329.61 1341.27C330.91 1341.27 332.21 1341.28 333.52 1341.28C334.82 1341.29 336.12 1341.29 337.42 1341.3C338.72 1341.3 340.03 1341.31 341.33 1341.32C342.63 1341.32 343.93 1341.33 345.23 1341.33C346.54 1341.34 347.84 1341.34 349.14 1341.35C350.44 1341.35 351.74 1341.36 353.05 1341.37C354.35 1341.37 355.65 1341.38 356.95 1341.38C358.26 1341.39 359.56 1341.4 360.86 1341.4C362.16 1341.41 363.46 1341.42 364.77 1341.42C366.07 1341.43 367.37 1341.44 368.67 1341.44C369.97 1341.45 371.28 1341.46 372.58 1341.46C373.88 1341.47 375.18 1341.48 376.48 1341.48C377.79 1341.49 379.09 1341.5 380.39 1341.51C381.69 1341.51 382.99 1341.52 384.3 1341.53C385.6 1341.54 386.9 1341.55 388.2 1341.55C389.51 1341.56 390.81 1341.57 392.11 1341.58C393.41 1341.59 394.71 1341.59 396.02 1341.6C397.32 1341.61 398.62 1341.62 399.92 1341.63C401.22 1341.64 402.53 1341.65 403.83 1341.66C405.13 1341.67 406.43 1341.68 407.73 1341.69C409.04 1341.7 410.34 1341.71 411.64 1341.72C412.94 1341.73 414.24 1341.74 415.55 1341.75C416.85 1341.76 418.15 1341.77 419.45 1341.78C420.76 1341.79 422.06 1341.8 423.36 1341.81C424.66 1341.82 425.96 1341.83 427.27 1341.85C428.57 1341.86 429.87 1341.87 431.17 1341.88C432.47 1341.89 433.78 1341.91 435.08 1341.92C436.38 1341.93 437.68 1341.94 438.98 1341.96C440.29 1341.97 441.59 1341.98 442.89 1342C444.19 1342.01 445.49 1342.03 446.8 1342.04C448.1 1342.06 449.4 1342.07 450.7 1342.09C452.01 1342.1 453.31 1342.12 454.61 1342.13C455.91 1342.15 457.21 1342.16 458.52 1342.18C459.82 1342.2 461.12 1342.21 462.42 1342.23C463.72 1342.25 465.03 1342.27 466.33 1342.29C467.63 1342.3 468.93 1342.32 470.23 1342.34C471.54 1342.36 472.84 1342.38 474.14 1342.4C475.44 1342.42 476.74 1342.44 478.05 1342.46C479.35 1342.48 480.65 1342.5 481.95 1342.53C483.26 1342.55 484.56 1342.57 485.86 1342.6C487.16 1342.62 488.46 1342.64 489.77 1342.67C491.07 1342.69 492.37 1342.72 493.67 1342.74C494.97 1342.77 496.28 1342.8 497.58 1342.82C498.88 1342.85 500.18 1342.88 501.48 1342.91C502.79 1342.94 504.09 1342.97 505.39 1343C506.69 1343.03 507.99 1343.06 509.3 1343.09C510.6 1343.13 511.9 1343.16 513.2 1343.2C514.51 1343.23 515.81 1343.27 517.11 1343.3C518.41 1343.34 519.71 1343.38 521.02 1343.42C522.32 1343.46 523.62 1343.5 524.92 1343.54C526.22 1343.58 527.53 1343.62 528.83 1343.67C530.13 1343.71 531.43 1343.76 532.73 1343.81C534.04 1343.85 535.34 1343.9 536.64 1343.96C537.94 1344.01 539.24 1344.06 540.55 1344.11C541.85 1344.17 543.15 1344.23 544.45 1344.29C545.76 1344.34 547.06 1344.41 548.36 1344.47C549.66 1344.53 550.96 1344.6 552.27 1344.67C553.57 1344.74 554.87 1344.81 556.17 1344.88C557.47 1344.96 558.78 1345.04 560.08 1345.12C561.38 1345.2 562.68 1345.28 563.98 1345.37C565.29 1345.46 566.59 1345.55 567.89 1345.64C569.19 1345.74 570.49 1345.84 571.8 1345.94C573.1 1346.05 574.4 1346.16 575.7 1346.27C577.01 1346.39 578.31 1346.51 579.61 1346.63C580.91 1346.76 582.21 1346.89 583.52 1347.03C584.82 1347.17 586.12 1347.32 587.42 1347.47C588.72 1347.63 590.03 1347.79 591.33 1347.96C592.63 1348.13 593.93 1348.31 595.23 1348.51C596.54 1348.7 597.84 1348.9 599.14 1349.12C600.44 1349.33 601.74 1349.56 603.05 1349.8C604.35 1350.04 605.65 1350.3 606.95 1350.58C608.26 1350.85 609.56 1351.14 610.86 1351.46C612.16 1351.77 613.46 1352.1 614.77 1352.46C616.07 1352.82 617.37 1353.21 618.67 1353.62C619.97 1354.04 621.28 1354.48 622.58 1354.96C623.88 1355.45 625.18 1355.96 626.48 1356.53C627.79 1357.1 629.09 1357.7 630.39 1358.38C631.69 1359.05 632.99 1359.77 634.3 1360.57C635.6 1361.38 636.9 1362.24 638.2 1363.21C639.51 1364.19 640.81 1365.23 642.11 1366.42C643.41 1367.61 644.71 1368.89 646.02 1370.37C647.32 1371.85 648.62 1373.44 649.92 1375.31C651.22 1377.17 652.53 1379.18 653.83 1381.57C655.13 1383.97 656.43 1386.55 657.73 1389.68C659.04 1392.81 660.34 1396.19 661.64 1400.38C662.94 1404.56 664.24 1409.08 665.55 1414.8C666.85 1420.52 668.15 1426.71 669.45 1434.69C670.76 1442.68 672.58 1455.92 673.36 1462.72C674.14 1469.52 676.48 1493.07 677.27 1502.72C678.05 1512.37 680.39 1546.12 681.17 1559.2C681.95 1572.28 684.3 1618.23 685.08 1633.51C685.86 1648.8 688.2 1699.89 688.98 1712.05C689.77 1724.21 692.89 1755.12 692.89 1755.12C692.89 1755.12 696.02 1738.82 696.8 1728.81C697.58 1718.81 699.92 1670.17 700.7 1655.05C701.48 1639.94 703.83 1591.49 704.61 1577.65C705.39 1563.82 707.73 1527.13 708.52 1516.68C709.3 1506.23 711.64 1480.55 712.42 1473.16C713.2 1465.77 715.55 1447.95 716.33 1442.78C717.11 1437.61 718.93 1427.53 720.23 1421.42C721.54 1415.31 722.84 1410.54 724.14 1406.14C725.44 1401.73 726.74 1398.22 728.05 1394.98C729.35 1391.74 730.65 1389.11 731.95 1386.69C733.26 1384.26 734.56 1382.27 735.86 1380.43C737.16 1378.59 738.46 1377.06 739.77 1375.65C741.07 1374.24 742.37 1373.06 743.67 1371.97C744.97 1370.89 746.28 1369.98 747.58 1369.14C748.88 1368.31 750.18 1367.61 751.48 1366.98C752.79 1366.34 754.09 1365.82 755.39 1365.35C756.69 1364.88 757.99 1364.5 759.3 1364.17C760.6 1363.84 761.9 1363.58 763.2 1363.38C764.51 1363.17 765.81 1363.03 767.11 1362.94C768.41 1362.84 769.71 1362.81 771.02 1362.82C772.32 1362.84 773.62 1362.91 774.92 1363.03C776.22 1363.16 777.53 1363.33 778.83 1363.57C780.13 1363.81 781.43 1364.11 782.73 1364.47C784.04 1364.84 785.34 1365.26 786.64 1365.78C787.94 1366.29 789.24 1366.86 790.55 1367.55C791.85 1368.23 793.15 1368.99 794.45 1369.88C795.76 1370.78 797.06 1371.76 798.36 1372.93C799.66 1374.09 800.96 1375.36 802.27 1376.87C803.57 1378.38 804.87 1380.02 806.17 1382C807.47 1383.97 808.78 1386.11 810.08 1388.72C811.38 1391.33 812.68 1394.15 813.98 1397.65C815.29 1401.15 816.59 1404.93 817.89 1409.7C819.19 1414.47 820.49 1419.64 821.8 1426.28C823.1 1432.91 824.92 1443.89 825.7 1449.53C826.48 1455.17 828.83 1474.63 829.61 1482.69C830.39 1490.75 832.73 1518.82 833.52 1530.13C834.3 1541.44 836.64 1581.21 837.42 1595.81C838.2 1610.41 840.55 1661.21 841.33 1676.12C842.11 1691.04 844.45 1736.89 845.23 1744.99C846.02 1753.08 848.36 1761.36 849.14 1757.07C849.92 1752.77 852.27 1715.66 853.05 1702.04C853.83 1688.41 856.17 1636.17 856.95 1620.85C857.73 1605.54 860.08 1561.41 860.86 1548.86C861.64 1536.31 863.98 1504.47 864.77 1495.35C865.55 1486.24 867.89 1464.08 868.67 1457.67C869.45 1451.26 871.28 1438.78 872.58 1431.23C873.88 1423.68 875.18 1417.81 876.48 1412.38C877.79 1406.95 879.09 1402.65 880.39 1398.66C881.69 1394.67 882.99 1391.44 884.3 1388.44C885.6 1385.43 886.9 1382.96 888.2 1380.65C889.51 1378.35 890.81 1376.42 892.11 1374.61C893.41 1372.81 894.71 1371.28 896.02 1369.84C897.32 1368.41 898.62 1367.17 899.92 1366.01C901.22 1364.85 902.53 1363.84 903.83 1362.89C905.13 1361.94 906.43 1361.11 907.73 1360.32C909.04 1359.53 910.34 1358.83 911.64 1358.17C912.94 1357.52 914.24 1356.92 915.55 1356.37C916.85 1355.81 918.15 1355.31 919.45 1354.83C920.76 1354.35 922.06 1353.92 923.36 1353.51C924.66 1353.1 925.96 1352.73 927.27 1352.37C928.57 1352.02 929.87 1351.69 931.17 1351.38C932.47 1351.07 933.78 1350.79 935.08 1350.51C936.38 1350.24 937.68 1349.99 938.98 1349.75C940.29 1349.51 941.59 1349.28 942.89 1349.07C944.19 1348.86 945.49 1348.66 946.8 1348.47C948.1 1348.28 949.4 1348.1 950.7 1347.93C952.01 1347.76 953.31 1347.6 954.61 1347.45C955.91 1347.29 957.21 1347.15 958.52 1347.01C959.82 1346.87 961.12 1346.74 962.42 1346.61C963.72 1346.49 965.03 1346.37 966.33 1346.26C967.63 1346.14 968.93 1346.03 970.23 1345.93C971.54 1345.83 972.84 1345.73 974.14 1345.63C975.44 1345.54 976.74 1345.45 978.05 1345.36C979.35 1345.27 980.65 1345.19 981.95 1345.11C983.26 1345.03 984.56 1344.95 985.86 1344.88C987.16 1344.8 988.46 1344.73 989.77 1344.66C991.07 1344.59 992.37 1344.53 993.67 1344.46C994.97 1344.4 996.28 1344.34 997.58 1344.28C998.88 1344.22 1000.18 1344.17 1001.48 1344.11C1002.79 1344.06 1004.09 1344 1005.39 1343.95C1006.69 1343.9 1007.99 1343.85 1009.3 1343.8C1010.6 1343.76 1011.9 1343.71 1013.2 1343.67C1014.51 1343.62 1015.81 1343.58 1017.11 1343.54C1018.41 1343.49 1019.71 1343.45 1021.02 1343.41C1022.32 1343.38 1023.62 1343.34 1024.92 1343.3C1026.22 1343.26 1027.53 1343.23 1028.83 1343.19C1030.13 1343.16 1031.43 1343.13 1032.73 1343.09C1034.04 1343.06 1035.34 1343.03 1036.64 1343C1037.94 1342.97 1039.24 1342.94 1040.55 1342.91C1041.85 1342.88 1043.15 1342.85 1044.45 1342.82C1045.76 1342.8 1047.06 1342.77 1048.36 1342.74C1049.66 1342.72 1050.96 1342.69 1052.27 1342.67C1053.57 1342.64 1054.87 1342.62 1056.17 1342.6C1057.47 1342.57 1058.78 1342.55 1060.08 1342.53C1061.38 1342.51 1062.68 1342.48 1063.98 1342.46C1065.29 1342.44 1066.59 1342.42 1067.89 1342.4C1069.19 1342.38 1070.49 1342.36 1071.8 1342.34C1073.1 1342.32 1074.4 1342.3 1075.7 1342.29C1077.01 1342.27 1078.31 1342.25 1079.61 1342.23C1080.91 1342.22 1082.21 1342.2 1083.52 1342.18C1084.82 1342.16 1086.12 1342.15 1087.42 1342.13C1088.72 1342.12 1090.03 1342.1 1091.33 1342.09C1092.63 1342.07 1093.93 1342.06 1095.23 1342.04C1096.54 1342.03 1097.84 1342.01 1099.14 1342C1100.44 1341.99 1101.74 1341.97 1103.05 1341.96C1104.35 1341.95 1105.65 1341.93 1106.95 1341.92C1108.26 1341.91 1109.56 1341.89 1110.86 1341.88C1112.16 1341.87 1113.46 1341.86 1114.77 1341.85C1116.07 1341.83 1117.37 1341.82 1118.67 1341.81C1119.97 1341.8 1121.28 1341.79 1122.58 1341.78C1123.88 1341.77 1125.18 1341.76 1126.48 1341.75C1127.79 1341.74 1129.09 1341.73 1130.39 1341.72C1131.69 1341.71 1132.99 1341.7 1134.3 1341.69C1135.6 1341.68 1136.9 1341.67 1138.2 1341.66C1139.51 1341.65 1140.81 1341.64 1142.11 1341.63C1143.41 1341.62 1144.71 1341.61 1146.02 1341.6C1147.32 1341.6 1148.62 1341.59 1149.92 1341.58C1151.22 1341.57 1152.53 1341.56 1153.83 1341.55C1155.13 1341.55 1156.43 1341.54 1157.73 1341.53C1159.04 1341.52 1160.34 1341.52 1161.64 1341.51C1162.94 1341.5 1164.24 1341.49 1165.55 1341.49C1166.85 1341.48 1168.15 1341.47 1169.45 1341.46C1170.76 1341.46 1172.06 1341.45 1173.36 1341.44C1174.66 1341.44 1175.96 1341.43 1177.27 1341.42C1178.57 1341.42 1179.87 1341.41 1181.17 1341.4C1182.47 1341.4 1183.78 1341.39 1185.08 1341.39C1186.38 1341.38 1187.68 1341.37 1188.98 1341.37C1190.29 1341.36 1191.59 1341.36 1192.89 1341.35C1194.19 1341.34 1195.49 1341.34 1196.8 1341.33C1198.1 1341.33 1199.4 1341.32 1200.7 1341.32C1202.01 1341.31 1203.31 1341.31 1204.61 1341.3C1205.91 1341.29 1207.21 1341.29 1208.52 1341.28C1209.82 1341.28 1211.12 1341.27 1212.42 1341.27C1213.72 1341.26 1215.03 1341.26 1216.33 1341.25C1217.63 1341.25 1219.58 1341.24 1220.23 1341.24"/></g>
<g class="axes ax2">
<line class="v" x1="220" y1="1255.4" x2="220" y2="2269.4"/>
<line class="h" x1="210" y1="2257.4" x2="1559.2" y2="2257.4"/>
<line class="h" x1="200.5" y1="1340.5" x2="220" y2="1340.5"/>
<line class="h" x1="200.5" y1="1507.1" x2="220" y2="1507.1"/>
<line class="h" x1="200.5" y1="1673.6" x2="220" y2="1673.6"/>
<line class="h" x1="200.5" y1="1840.2" x2="220" y2="1840.2"/>
<line class="h" x1="200.5" y1="2006.7" x2="220" y2="2006.7"/>
<line class="h" x1="200.5" y1="2173.3" x2="220" y2="2173.3"/>
<line class="h" x1="210" y1="1257.2" x2="220" y2="1257.2"/>
<line class="h" x1="210" y1="1423.8" x2="220" y2="1423.8"/>
<line class="h" x1="210" y1="1590.3" x2="220" y2="1590.3"/>
<line class="h" x1="210" y1="1756.9" x2="220" y2="1756.9"/>
<line class="h" x1="210" y1="1923.5" x2="220" y2="1923.5"/>
<line class="h" x1="210" y1="2090" x2="220" y2="2090"/>
<line class="v" x1="315.5" y1="2257.4" x2="315.5" y2="2278.4"/>
<line class="v" x1="506.5" y1="2257.4" x2="506.5" y2="2278.4"/>
<line class="v" x1="697.5" y1="2257.4" x2="697.5" y2="2278.4"/>
<line class="v" x1="888.5" y1="2257.4" x2="888.5" y2="2278.4"/>
<line class="v" x1="1079.5" y1="2257.4" x2="1079.5" y2="2278.4"/>
<line class="v" x1="1270.5" y1="2257.4" x2="1270.5" y2="2278.4"/>
<line class="v" x1="1461.5" y1="2257.4" x2="1461.5" y2="2278.4"/>
<line class="v" x1="411" y1="2257.4" x2="411" y2="2269.4"/>
<line class="v" x1="602" y1="2257.4" x2="602" y2="2269.4"/>
<line class="v" x1="793" y1="2257.4" x2="793" y2="2269.4"/>
<line class="v" x1="984" y1="2257.4" x2="984" y2="2269.4"/>
<line class="v" x1="1175" y1="2257.4" x2="1175" y2="2269.4"/>
<line class="v" x1="1366" y1="2257.4" x2="1366" y2="2269.4"/>
<line class="v" x1="1557" y1="2257.4" x2="1557" y2="2269.4"/>
</g>
<g class="ticklabels" font-size="37">
<text x="186" y="1351.1" text-anchor="end">1.00</text>
<text x="186" y="1517.7" text-anchor="end">0.99</text>
<text x="186" y="1684.3" text-anchor="end">0.98</text>
<text x="186" y="1850.8" text-anchor="end">0.97</text>
<text x="186" y="2017.4" text-anchor="end">0.96</text>
<text x="186" y="2183.9" text-anchor="end">0.95</text>
<text x="315.5" y="2320.9" text-anchor="middle">-6</text>
<text x="506.5" y="2320.9" text-anchor="middle">-4</text>
<text x="697.5" y="2320.9" text-anchor="middle">-2</text>
<text x="888.5" y="2320.9" text-anchor="middle">0</text>
<text x="1079.5" y="2320.9" text-anchor="middle">2</text>
<text x="1270.5" y="2320.9" text-anchor="middle">4</text>
<text x="1461.5" y="2320.9" text-anchor="middle">6</text>
</g>
<text class="title" font-size="47" x="888.7" y="2380.6" text-anchor="middle" textLength="288.1" lengthAdjust="spacingAndGlyphs">velocity mm/s</text>
<text class="title" font-size="47" text-anchor="middle" transform="translate(80.8 1789) rotate(-90)" style="white-space:pre">relative transmission</text>
</g>
<g class="panel" id="panel3">
<clipPath id="clip3"><rect x="220" y="2367.1" width="1328.2" height="1018.7"/></clipPath>
<g class="dots" clip-path="url(#clip3)">
<circle cx="221" cy="2484.3" r="5.3"/><circle cx="226.5" cy="2484.3" r="5.3"/><circle cx="232.1" cy="2483.8" r="5.3"/><circle cx="237.6" cy="2484.3" r="5.3"/><circle cx="243.1" cy="2470.1" r="5.3"/><circle cx="248.7" cy="2471.4" r="5.3"/><circle cx="254.2" cy="2474" r="5.3"/><circle cx="259.7" cy="2475.3" r="5.3"/><circle cx="265.3" cy="2488.1" r="5.3"/><circle cx="270.8" cy="2468.3" r="5.3"/><circle cx="276.4" cy="2484.3" r="5.3"/><circle cx="281.9" cy="2487.4" r="5.3"/><circle cx="287.4" cy="2474" r="5.3"/><circle cx="293" cy="2484.3" r="5.3"/><circle cx="298.5" cy="2486.3" r="5.3"/><circle cx="304" cy="2487.4" r="5.3"/><circle cx="309.6" cy="2488.9" r="5.3"/><circle cx="315.1" cy="2487.4" r="5.3"/><circle cx="320.6" cy="2486.3" r="5.3"/><circle cx="326.2" cy="2472.7" r="5.3"/><circle cx="331.7" cy="2472.7" r="5.3"/><circle cx="337.2" cy="2475.3" r="5.3"/><circle cx="342.8" cy="2462.4" r="5.3"/><circle cx="348.3" cy="2475.3" r="5.3"/><circle cx="353.8" cy="2485.6" r="5.3"/><circle cx="359.4" cy="2487.4" r="5.3"/><circle cx="364.9" cy="2490.7" r="5.3"/><circle cx="370.4" cy="2474.5" r="5.3"/><circle cx="376" cy="2485.6" r="5.3"/><circle cx="381.5" cy="2476" r="5.3"/><circle cx="387.1" cy="2488.1" r="5.3"/><circle cx="392.6" cy="2465.8" r="5.3"/><circle cx="398.1" cy="2485.6" r="5.3"/><circle cx="403.7" cy="2484.3" r="5.3"/><circle cx="409.2" cy="2471.4" r="5.3"/><circle cx="414.7" cy="2464.2" r="5.3"/><circle cx="420.3" cy="2470.1" r="5.3"/><circle cx="425.8" cy="2470.1" r="5.3"/><circle cx="431.3" cy="2468.8" r="5.3"/><circle cx="436.9" cy="2472.7" r="5.3"/><circle cx="442.4" cy="2475.3" r="5.3"/><circle cx="447.9" cy="2485.6" r="5.3"/><circle cx="453.5" cy="2487.4" r="5.3"/><circle cx="459" cy="2488.9" r="5.3"/><circle cx="464.5" cy="2475.3" r="5.3"/><circle cx="470.1" cy="2487.4" r="5.3"/><circle cx="475.6" cy="2485.6" r="5.3"/><circle cx="481.1" cy="2476.6" r="5.3"/><circle cx="486.7" cy="2489.9" r="5.3"/><circle cx="492.2" cy="2486.3" r="5.3"/><circle cx="497.8" cy="2476.6" r="5.3"/><circle cx="503.3" cy="2470.1" r="5.3"/><circle cx="508.8" cy="2471.4" r="5.3"/><circle cx="514.4" cy="2468.8" r="5.3"/><circle cx="519.9" cy="2475.3" r="5.3"/><circle cx="525.4" cy="2476.6" r="5.3"/><circle cx="531" cy="2472.7" r="5.3"/><circle cx="536.5" cy="2484.3" r="5.3"/><circle cx="542" cy="2495.1" r="5.3"/><circle cx="547.6" cy="2487.4" r="5.3"/><circle cx="553.1" cy="2475.3" r="5.3"/><circle cx="558.6" cy="2485.6" r="5.3"/><circle cx="564.2" cy="2480.4" r="5.3"/><circle cx="569.7" cy="2487.4" r="5.3"/><circle cx="575.2" cy="2475.3" r="5.3"/><circle cx="580.8" cy="2473.5" r="5.3"/><circle cx="586.3" cy="2477.1" r="5.3"/><circle cx="591.8" cy="2494.6" r="5.3"/><circle cx="597.4" cy="2488.9" r="5.3"/><circle cx="602.9" cy="2489.4" r="5.3"/><circle cx="608.5" cy="2487.4" r="5.3"/><circle cx="614" cy="2489.4" r="5.3"/><circle cx="619.5" cy="2487.4" r="5.3"/><circle cx="625.1" cy="2474.5" r="5.3"/><circle cx="630.6" cy="2487.4" r="5.3"/><circle cx="636.1" cy="2475.3" r="5.3"/><circle cx="641.7" cy="2465.8" r="5.3"/><circle cx="647.2" cy="2487.4" r="5.3"/><circle cx="652.7" cy="2495.8" r="5.3"/><circle cx="658.3" cy="2476.6" r="5.3"/><circle cx="663.8" cy="2492" r="5.3"/><circle cx="669.3" cy="2488.9" r="5.3"/><circle cx="674.9" cy="2468.8" r="5.3"/><circle cx="680.4" cy="2475.3" r="5.3"/><circle cx="685.9" cy="2487.4" r="5.3"/><circle cx="691.5" cy="2486.3" r="5.3"/><circle cx="697" cy="2475.3" r="5.3"/><circle cx="702.5" cy="2472.7" r="5.3"/><circle cx="708.1" cy="2465.8" r="5.3"/><circle cx="713.6" cy="2472.7" r="5.3"/><circle cx="719.2" cy="2484.3" r="5.3"/><circle cx="724.7" cy="2494.6" r="5.3"/><circle cx="730.2" cy="2498.4" r="5.3"/><circle cx="735.8" cy="2487.4" r="5.3"/><circle cx="741.3" cy="2489.4" r="5.3"/><circle cx="746.8" cy="2493.3" r="5.3"/><circle cx="752.4" cy="2481.7" r="5.3"/><circle cx="757.9" cy="2495.8" r="5.3"/><circle cx="763.4" cy="2489.4" r="5.3"/><circle cx="769" cy="2502.3" r="5.3"/><circle cx="774.5" cy="2497.1" r="5.3"/><circle cx="780" cy="2499.7" r="5.3"/><circle cx="785.6" cy="2503.5" r="5.3"/><circle cx="791.1" cy="2510" r="5.3"/><circle cx="796.6" cy="2495.8" r="5.3"/><circle cx="802.2" cy="2491.4" r="5.3"/><circle cx="807.7" cy="2514.6" r="5.3"/><circle cx="813.2" cy="2501.7" r="5.3"/><circle cx="818.8" cy="2515.8" r="5.3"/><circle cx="824.3" cy="2539" r="5.3"/><circle cx="829.9" cy="2532" r="5.3"/><circle cx="835.4" cy="2558.3" r="5.3"/><circle cx="840.9" cy="2559.5" r="5.3"/><circle cx="846.5" cy="2582.7" r="5.3"/><circle cx="852" cy="2609.7" r="5.3"/><circle cx="857.5" cy="2651.1" r="5.3"/><circle cx="863.1" cy="2721.5" r="5.3"/><circle cx="868.6" cy="2810.5" r="5.3"/><circle cx="874.1" cy="2936.4" r="5.3"/><circle cx="879.7" cy="3087.1" r="5.3"/><circle cx="882.6" cy="3238.8" r="5.3"/><circle cx="886.8" cy="3306.6" r="5.3"/><circle cx="892.2" cy="3269.4" r="5.3"/><circle cx="901.8" cy="3150.8" r="5.3"/><circle cx="907.3" cy="3005.8" r="5.3"/><circle cx="912.9" cy="2913.3" r="5.3"/><circle cx="918.4" cy="2838.7" r="5.3"/><circle cx="923.9" cy="2825.9" r="5.3"/><circle cx="929.5" cy="2868.1" r="5.3"/><circle cx="935" cy="2970.9" r="5.3"/><circle cx="940.6" cy="3095.8" r="5.3"/><circle cx="946.1" cy="3232" r="5.3"/><circle cx="951.6" cy="3291" r="5.3"/><circle cx="957.2" cy="3243.5" r="5.3"/><circle cx="962.7" cy="3103.5" r="5.3"/><circle cx="968.2" cy="2953.4" r="5.3"/><circle cx="973.8" cy="2815.6" r="5.3"/><circle cx="979.3" cy="2709.2" r="5.3"/><circle cx="984.8" cy="2636.5" r="5.3"/><circle cx="990.4" cy="2597.2" r="5.3"/><circle cx="995.9" cy="2562.3" r="5.3"/><circle cx="1001.4" cy="2548.7" r="5.3"/><circle cx="1007" cy="2530.5" r="5.3"/><circle cx="1012.5" cy="2515.1" r="5.3"/><circle cx="1018" cy="2526.7" r="5.3"/><circle cx="1023.6" cy="2492" r="5.3"/><circle cx="1029.1" cy="2504.3" r="5.3"/><circle cx="1034.6" cy="2498.4" r="5.3"/><circle cx="1040.2" cy="2495.8" r="5.3"/><circle cx="1045.7" cy="2492" r="5.3"/><circle cx="1051.2" cy="2499.7" r="5.3"/><circle cx="1056.8" cy="2497.1" r="5.3"/><circle cx="1062.3" cy="2499.7" r="5.3"/><circle cx="1067.9" cy="2502.3" r="5.3"/><circle cx="1073.4" cy="2511.3" r="5.3"/><circle cx="1078.9" cy="2497.1" r="5.3"/><circle cx="1084.5" cy="2495.8" r="5.3"/><circle cx="1090" cy="2502.3" r="5.3"/><circle cx="1095.5" cy="2504.8" r="5.3"/><circle cx="1101.1" cy="2502.3" r="5.3"/><circle cx="1106.6" cy="2503.5" r="5.3"/><circle cx="1112.1" cy="2485.6" r="5.3"/><circle cx="1117.7" cy="2508.7" r="5.3"/><circle cx="1123.2" cy="2510" r="5.3"/><circle cx="1128.7" cy="2502.3" r="5.3"/><circle cx="1134.3" cy="2501" r="5.3"/><circle cx="1139.8" cy="2503.5" r="5.3"/><circle cx="1145.3" cy="2506.1" r="5.3"/><circle cx="1150.9" cy="2508.7" r="5.3"/><circle cx="1156.4" cy="2499.7" r="5.3"/><circle cx="1162" cy="2498.4" r="5.3"/><circle cx="1167.5" cy="2502.3" r="5.3"/><circle cx="1173" cy="2490.7" r="5.3"/><circle cx="1178.6" cy="2487.4" r="5.3"/><circle cx="1184.1" cy="2486.3" r="5.3"/><circle cx="1189.6" cy="2492" r="5.3"/><circle cx="1195.2" cy="2477.1" r="5.3"/><circle cx="1200.7" cy="2475.3" r="5.3"/><circle cx="1206.2" cy="2476" r="5.3"/><circle cx="1211.8" cy="2492" r="5.3"/><circle cx="1217.3" cy="2497.1" r="5.3"/><circle cx="1222.8" cy="2475.3" r="5.3"/><circle cx="1228.4" cy="2472.7" r="5.3"/><circle cx="1233.9" cy="2490.7" r="5.3"/><circle cx="1239.4" cy="2486.3" r="5.3"/><circle cx="1245" cy="2487.4" r="5.3"/><circle cx="1250.5" cy="2484.3" r="5.3"/><circle cx="1256" cy="2472.7" r="5.3"/><circle cx="1261.6" cy="2493.3" r="5.3"/><circle cx="1267.1" cy="2468.8" r="5.3"/><circle cx="1272.7" cy="2470.1" r="5.3"/><circle cx="1278.2" cy="2486.3" r="5.3"/><circle cx="1283.7" cy="2487.4" r="5.3"/><circle cx="1289.3" cy="2474" r="5.3"/><circle cx="1294.8" cy="2475.3" r="5.3"/><circle cx="1300.3" cy="2485.6" r="5.3"/><circle cx="1305.9" cy="2474" r="5.3"/><circle cx="1311.4" cy="2471.4" r="5.3"/><circle cx="1316.9" cy="2467.6" r="5.3"/><circle cx="1322.5" cy="2484.3" r="5.3"/><circle cx="1328" cy="2485.6" r="5.3"/><circle cx="1333.5" cy="2487.4" r="5.3"/><circle cx="1339.1" cy="2474" r="5.3"/><circle cx="1344.6" cy="2475.3" r="5.3"/><circle cx="1350.1" cy="2484.3" r="5.3"/><circle cx="1355.7" cy="2485.6" r="5.3"/><circle cx="1361.2" cy="2468.3" r="5.3"/><circle cx="1366.7" cy="2492" r="5.3"/><circle cx="1372.3" cy="2475.3" r="5.3"/><circle cx="1377.8" cy="2490.7" r="5.3"/><circle cx="1383.4" cy="2494.6" r="5.3"/><circle cx="1388.9" cy="2484.3" r="5.3"/><circle cx="1394.4" cy="2479.1" r="5.3"/><circle cx="1400" cy="2487.4" r="5.3"/><circle cx="1405.5" cy="2477.8" r="5.3"/><circle cx="1411" cy="2492" r="5.3"/><circle cx="1416.6" cy="2494.6" r="5.3"/><circle cx="1422.1" cy="2487.4" r="5.3"/><circle cx="1427.6" cy="2475.3" r="5.3"/><circle cx="1433.2" cy="2467.6" r="5.3"/><circle cx="1438.7" cy="2474" r="5.3"/><circle cx="1444.2" cy="2484.3" r="5.3"/><circle cx="1449.8" cy="2486.3" r="5.3"/><circle cx="1455.3" cy="2476.6" r="5.3"/><circle cx="1460.8" cy="2484.3" r="5.3"/><circle cx="1466.4" cy="2470.1" r="5.3"/><circle cx="1471.9" cy="2484.3" r="5.3"/><circle cx="1477.4" cy="2472.7" r="5.3"/><circle cx="1483" cy="2470.1" r="5.3"/><circle cx="1488.5" cy="2468.8" r="5.3"/><circle cx="1494" cy="2483" r="5.3"/><circle cx="1499.6" cy="2475.3" r="5.3"/><circle cx="1505.1" cy="2484.3" r="5.3"/><circle cx="1510.7" cy="2480.4" r="5.3"/><circle cx="1516.2" cy="2484.3" r="5.3"/><circle cx="1521.7" cy="2489.4" r="5.3"/><circle cx="1527.3" cy="2484.3" r="5.3"/><circle cx="1532.8" cy="2475.3" r="5.3"/><circle cx="1538.3" cy="2486.3" r="5.3"/><circle cx="1543.9" cy="2477.8" r="5.3"/>
</g>
<g clip-path="url(#clip3)"><path class="curve" transform="scale(1.05 1)" stroke="#ff0000" stroke-width="3.0" d="M205.52 2480.56C207.9 2480.57 215.05 2480.58 219.81 2480.6C224.57 2480.61 229.33 2480.62 234.1 2480.64C238.86 2480.65 243.62 2480.67 248.38 2480.68C253.14 2480.7 257.9 2480.71 262.67 2480.73C267.43 2480.74 272.19 2480.76 276.95 2480.78C281.71 2480.79 286.48 2480.81 291.24 2480.83C296 2480.85 300.76 2480.87 305.52 2480.89C310.29 2480.91 315.05 2480.93 319.81 2480.95C324.57 2480.97 329.33 2480.99 334.1 2481.02C338.86 2481.04 343.62 2481.06 348.38 2481.09C353.14 2481.12 357.9 2481.14 362.67 2481.17C367.43 2481.2 372.19 2481.22 376.95 2481.25C381.71 2481.28 386.48 2481.32 391.24 2481.35C396 2481.38 400.76 2481.42 405.52 2481.45C410.29 2481.49 415.05 2481.52 419.81 2481.56C424.57 2481.6 429.33 2481.64 434.1 2481.69C438.86 2481.73 443.62 2481.78 448.38 2481.82C453.14 2481.87 457.9 2481.92 462.67 2481.97C467.43 2482.03 472.19 2482.08 476.95 2482.14C481.71 2482.2 486.48 2482.26 491.24 2482.33C496 2482.39 500.76 2482.46 505.52 2482.54C510.29 2482.61 515.05 2482.69 519.81 2482.77C524.57 2482.86 529.33 2482.94 534.1 2483.04C538.86 2483.13 543.62 2483.23 548.38 2483.34C553.14 2483.45 557.9 2483.56 562.67 2483.69C567.43 2483.81 572.19 2483.94 576.95 2484.09C581.71 2484.23 586.48 2484.38 591.24 2484.55C596 2484.72 600.76 2484.89 605.52 2485.09C610.29 2485.28 615.05 2485.49 619.81 2485.72C624.57 2485.96 629.33 2486.2 634.1 2486.48C638.86 2486.76 643.62 2487.05 648.38 2487.39C653.14 2487.73 657.9 2488.09 662.67 2488.5C667.43 2488.92 672.19 2489.36 676.95 2489.87C681.71 2490.39 686.48 2490.95 691.24 2491.6C696 2492.26 700.76 2492.97 705.52 2493.82C710.29 2494.68 715.05 2495.6 719.81 2496.74C724.57 2497.89 729.33 2499.12 734.1 2500.7C738.86 2502.29 743.62 2503.97 748.38 2506.27C753.14 2508.57 757.9 2510.96 762.67 2514.48C767.43 2517.99 772.19 2521.54 776.95 2527.36C781.71 2533.18 786.48 2538.35 791.24 2549.38C796 2560.41 802.67 2579.1 805.52 2593.54C808.38 2607.97 816.95 2657.31 819.81 2693.72C822.67 2730.13 831.24 2893.86 834.1 2957.59C836.95 3021.32 848.38 3330.99 848.38 3330.99C848.38 3330.99 859.81 3052.03 862.67 3003.12C865.52 2954.22 876.95 2841.94 876.95 2841.94C876.95 2841.94 888.38 2952.57 891.24 3000.74C894.1 3048.92 905.52 3323.68 905.52 3323.68C905.52 3323.68 916.95 3008.09 919.81 2944.31C922.67 2880.54 931.24 2721.28 934.1 2685.92C936.95 2650.56 945.52 2604.38 948.38 2590.69C951.24 2576.99 957.9 2559.5 962.67 2548.93C967.43 2538.36 972.19 2532.98 976.95 2527.26C981.71 2521.55 986.48 2518.07 991.24 2514.66C996 2511.25 1000.76 2508.66 1005.52 2506.82C1010.29 2504.97 1015.05 2503.98 1019.81 2503.61C1024.57 2503.24 1029.33 2503.97 1034.1 2504.59C1038.86 2505.21 1043.62 2508.21 1048.38 2507.32C1053.14 2506.43 1057.9 2501.69 1062.67 2499.25C1067.43 2496.81 1072.19 2494.37 1076.95 2492.69C1081.71 2491.01 1086.48 2489.97 1091.24 2489.15C1096 2488.33 1100.76 2488.17 1105.52 2487.77C1110.29 2487.36 1115.05 2487.04 1119.81 2486.72C1124.57 2486.41 1129.33 2486.14 1134.1 2485.89C1138.86 2485.64 1143.62 2485.42 1148.38 2485.21C1153.14 2485 1157.9 2484.81 1162.67 2484.64C1167.43 2484.46 1172.19 2484.31 1176.95 2484.16C1181.71 2484.01 1186.48 2483.87 1191.24 2483.74C1196 2483.62 1200.76 2483.5 1205.52 2483.39C1210.29 2483.28 1215.05 2483.17 1219.81 2483.08C1224.57 2482.98 1229.33 2482.89 1234.1 2482.8C1238.86 2482.72 1243.62 2482.64 1248.38 2482.56C1253.14 2482.49 1257.9 2482.42 1262.67 2482.35C1267.43 2482.28 1272.19 2482.22 1276.95 2482.16C1281.71 2482.1 1286.48 2482.04 1291.24 2481.99C1296 2481.94 1300.76 2481.89 1305.52 2481.84C1310.29 2481.79 1315.05 2481.74 1319.81 2481.7C1324.57 2481.66 1329.33 2481.61 1334.1 2481.57C1338.86 2481.53 1343.62 2481.5 1348.38 2481.46C1353.14 2481.42 1357.9 2481.39 1362.67 2481.36C1367.43 2481.32 1372.19 2481.29 1376.95 2481.26C1381.71 2481.23 1386.48 2481.2 1391.24 2481.18C1396 2481.15 1400.76 2481.12 1405.52 2481.1C1410.29 2481.07 1415.05 2481.05 1419.81 2481.02C1424.57 2481 1429.33 2480.98 1434.1 2480.96C1438.86 2480.93 1443.62 2480.91 1448.38 2480.89C1453.14 2480.87 1457.9 2480.85 1462.67 2480.84C1467.43 2480.82 1474.57 2480.79 1476.95 2480.78"/></g>
<g clip-path="url(#clip3)"><path class="curve" transform="scale(1.05 1)" stroke="#0000ff" stroke-width="3.0" d="M205.52 2480.55C207.9 2480.56 215.05 2480.58 219.81 2480.59C224.57 2480.6 229.33 2480.62 234.1 2480.63C238.86 2480.65 243.62 2480.66 248.38 2480.67C253.14 2480.69 257.9 2480.7 262.67 2480.72C267.43 2480.74 272.19 2480.75 276.95 2480.77C281.71 2480.79 286.48 2480.8 291.24 2480.82C296 2480.84 300.76 2480.86 305.52 2480.88C310.29 2480.9 315.05 2480.92 319.81 2480.94C324.57 2480.96 329.33 2480.99 334.1 2481.01C338.86 2481.03 343.62 2481.06 348.38 2481.08C353.14 2481.11 357.9 2481.13 362.67 2481.16C367.43 2481.19 372.19 2481.21 376.95 2481.24C381.71 2481.27 386.48 2481.31 391.24 2481.34C396 2481.37 400.76 2481.4 405.52 2481.44C410.29 2481.48 415.05 2481.51 419.81 2481.55C424.57 2481.59 429.33 2481.63 434.1 2481.67C438.86 2481.72 443.62 2481.76 448.38 2481.81C453.14 2481.86 457.9 2481.91 462.67 2481.96C467.43 2482.01 472.19 2482.07 476.95 2482.13C481.71 2482.18 486.48 2482.25 491.24 2482.31C496 2482.38 500.76 2482.45 505.52 2482.52C510.29 2482.59 515.05 2482.67 519.81 2482.75C524.57 2482.84 529.33 2482.92 534.1 2483.02C538.86 2483.11 543.62 2483.21 548.38 2483.32C553.14 2483.43 557.9 2483.54 562.67 2483.66C567.43 2483.79 572.19 2483.92 576.95 2484.06C581.71 2484.2 586.48 2484.35 591.24 2484.52C596 2484.68 600.76 2484.86 605.52 2485.05C610.29 2485.25 615.05 2485.45 619.81 2485.68C624.57 2485.91 629.33 2486.16 634.1 2486.44C638.86 2486.71 643.62 2487.01 648.38 2487.34C653.14 2487.67 657.9 2488.03 662.67 2488.44C667.43 2488.85 672.19 2489.29 676.95 2489.81C681.71 2490.32 686.48 2490.87 691.24 2491.52C696 2492.17 700.76 2492.87 705.52 2493.72C710.29 2494.57 715.05 2495.48 719.81 2496.62C724.57 2497.76 729.33 2498.97 734.1 2500.55C738.86 2502.12 743.62 2503.79 748.38 2506.06C753.14 2508.34 757.9 2510.71 762.67 2514.19C767.43 2517.66 772.19 2521.18 776.95 2526.92C781.71 2532.67 786.48 2538.06 791.24 2548.65C796 2559.23 802.67 2576.73 805.52 2590.44C808.38 2604.14 816.95 2650.31 819.81 2685.67C822.67 2721.03 831.24 2880.27 834.1 2944.04C836.95 3007.8 848.38 3323.34 848.38 3323.34C848.38 3323.34 859.81 3048.49 862.67 3000.28C865.52 2952.07 876.95 2841.21 876.95 2841.21C876.95 2841.21 888.38 2952.07 891.24 3000.28C894.1 3048.49 905.52 3323.34 905.52 3323.34C905.52 3323.34 916.95 3007.8 919.81 2944.04C922.67 2880.27 931.24 2721.03 934.1 2685.67C936.95 2650.31 945.52 2604.14 948.38 2590.44C951.24 2576.73 957.9 2559.23 962.67 2548.65C967.43 2538.06 972.19 2532.67 976.95 2526.92C981.71 2521.18 986.48 2517.66 991.24 2514.19C996 2510.71 1000.76 2508.34 1005.52 2506.06C1010.29 2503.79 1015.05 2502.12 1019.81 2500.55C1024.57 2498.97 1029.33 2497.76 1034.1 2496.62C1038.86 2495.48 1043.62 2494.57 1048.38 2493.72C1053.14 2492.87 1057.9 2492.17 1062.67 2491.52C1067.43 2490.87 1072.19 2490.32 1076.95 2489.81C1081.71 2489.29 1086.48 2488.85 1091.24 2488.44C1096 2488.03 1100.76 2487.67 1105.52 2487.34C1110.29 2487.01 1115.05 2486.71 1119.81 2486.44C1124.57 2486.16 1129.33 2485.91 1134.1 2485.68C1138.86 2485.45 1143.62 2485.25 1148.38 2485.05C1153.14 2484.86 1157.9 2484.68 1162.67 2484.52C1167.43 2484.35 1172.19 2484.2 1176.95 2484.06C1181.71 2483.92 1186.48 2483.79 1191.24 2483.66C1196 2483.54 1200.76 2483.43 1205.52 2483.32C1210.29 2483.21 1215.05 2483.11 1219.81 2483.02C1224.57 2482.92 1229.33 2482.84 1234.1 2482.75C1238.86 2482.67 1243.62 2482.59 1248.38 2482.52C1253.14 2482.45 1257.9 2482.38 1262.67 2482.31C1267.43 2482.25 1272.19 2482.18 1276.95 2482.13C1281.71 2482.07 1286.48 2482.01 1291.24 2481.96C1296 2481.91 1300.76 2481.86 1305.52 2481.81C1310.29 2481.76 1315.05 2481.72 1319.81 2481.67C1324.57 2481.63 1329.33 2481.59 1334.1 2481.55C1338.86 2481.51 1343.62 2481.48 1348.38 2481.44C1353.14 2481.4 1357.9 2481.37 1362.67 2481.34C1367.43 2481.31 1372.19 2481.27 1376.95 2481.24C1381.71 2481.21 1386.48 2481.19 1391.24 2481.16C1396 2481.13 1400.76 2481.11 1405.52 2481.08C1410.29 2481.06 1415.05 2481.03 1419.81 2481.01C1424.57 2480.99 1429.33 2480.96 1434.1 2480.94C1438.86 2480.92 1443.62 2480.9 1448.38 2480.88C1453.14 2480.86 1457.9 2480.84 1462.67 2480.82C1467.43 2480.8 1474.57 2480.78 1476.95 2480.77"/></g>
<g clip-path="url(#clip3)"><path class="curve" transform="scale(1.05 1)" stroke="#00ff00" stroke-width="4.1" d="M205.52 2479.71C207.9 2479.71 215.05 2479.71 219.81 2479.71C224.57 2479.71 229.33 2479.71 234.1 2479.71C238.86 2479.71 243.62 2479.71 248.38 2479.71C253.14 2479.71 257.9 2479.71 262.67 2479.71C267.43 2479.71 272.19 2479.71 276.95 2479.71C281.71 2479.71 286.48 2479.71 291.24 2479.71C296 2479.71 300.76 2479.71 305.52 2479.71C310.29 2479.71 315.05 2479.71 319.81 2479.71C324.57 2479.71 329.33 2479.71 334.1 2479.71C338.86 2479.71 343.62 2479.71 348.38 2479.71C353.14 2479.71 357.9 2479.71 362.67 2479.71C367.43 2479.71 372.19 2479.71 376.95 2479.71C381.71 2479.71 386.48 2479.71 391.24 2479.71C396 2479.71 400.76 2479.71 405.52 2479.71C410.29 2479.71 415.05 2479.71 419.81 2479.71C424.57 2479.71 429.33 2479.71 434.1 2479.71C438.86 2479.71 443.62 2479.71 448.38 2479.71C453.14 2479.71 457.9 2479.71 462.67 2479.71C467.43 2479.72 472.19 2479.72 476.95 2479.72C481.71 2479.72 486.48 2479.72 491.24 2479.72C496 2479.72 500.76 2479.72 505.52 2479.72C510.29 2479.72 515.05 2479.72 519.81 2479.72C524.57 2479.72 529.33 2479.72 534.1 2479.72C538.86 2479.72 543.62 2479.72 548.38 2479.72C553.14 2479.72 557.9 2479.72 562.67 2479.73C567.43 2479.73 572.19 2479.73 576.95 2479.73C581.71 2479.73 586.48 2479.73 591.24 2479.73C596 2479.73 600.76 2479.73 605.52 2479.74C610.29 2479.74 615.05 2479.74 619.81 2479.74C624.57 2479.74 629.33 2479.74 634.1 2479.74C638.86 2479.75 643.62 2479.75 648.38 2479.75C653.14 2479.75 657.9 2479.76 662.67 2479.76C667.43 2479.76 672.19 2479.76 676.95 2479.77C681.71 2479.77 686.48 2479.78 691.24 2479.78C696 2479.79 700.76 2479.79 705.52 2479.8C710.29 2479.81 715.05 2479.81 719.81 2479.82C724.57 2479.83 729.33 2479.84 734.1 2479.86C738.86 2479.87 743.62 2479.89 748.38 2479.91C753.14 2479.93 757.9 2479.95 762.67 2479.99C767.43 2480.03 772.19 2480.07 776.95 2480.14C781.71 2480.21 786.48 2479.99 791.24 2480.43C796 2480.88 800.76 2481.58 805.52 2482.8C810.29 2484.02 815.05 2486.01 819.81 2487.75C824.57 2489.49 829.33 2493.32 834.1 2493.25C838.86 2493.19 843.62 2489.14 848.38 2487.35C853.14 2485.57 857.9 2483.7 862.67 2482.55C867.43 2481.39 872.19 2480.83 876.95 2480.43C881.71 2480.04 886.48 2480.23 891.24 2480.16C896 2480.1 900.76 2480.07 905.52 2480.04C910.29 2480.01 915.05 2479.99 919.81 2479.98C924.57 2479.96 929.33 2479.95 934.1 2479.95C938.86 2479.94 943.62 2479.94 948.38 2479.95C953.14 2479.95 957.9 2479.96 962.67 2479.98C967.43 2479.99 972.19 2480.01 976.95 2480.04C981.71 2480.08 986.48 2480.11 991.24 2480.17C996 2480.24 1000.76 2480.02 1005.52 2480.45C1010.29 2480.89 1015.05 2481.56 1019.81 2482.76C1024.57 2483.96 1029.33 2485.92 1034.1 2487.67C1038.86 2489.43 1043.62 2493.34 1048.38 2493.3C1053.14 2493.26 1057.9 2489.21 1062.67 2487.43C1067.43 2485.64 1072.19 2483.75 1076.95 2482.58C1081.71 2481.41 1086.48 2480.82 1091.24 2480.41C1096 2480 1100.76 2480.2 1105.52 2480.13C1110.29 2480.06 1115.05 2480.02 1119.81 2479.99C1124.57 2479.95 1129.33 2479.93 1134.1 2479.91C1138.86 2479.88 1143.62 2479.87 1148.38 2479.85C1153.14 2479.84 1157.9 2479.83 1162.67 2479.82C1167.43 2479.81 1172.19 2479.8 1176.95 2479.8C1181.71 2479.79 1186.48 2479.79 1191.24 2479.78C1196 2479.78 1200.76 2479.77 1205.52 2479.77C1210.29 2479.76 1215.05 2479.76 1219.81 2479.76C1224.57 2479.76 1229.33 2479.75 1234.1 2479.75C1238.86 2479.75 1243.62 2479.75 1248.38 2479.74C1253.14 2479.74 1257.9 2479.74 1262.67 2479.74C1267.43 2479.74 1272.19 2479.74 1276.95 2479.73C1281.71 2479.73 1286.48 2479.73 1291.24 2479.73C1296 2479.73 1300.76 2479.73 1305.52 2479.73C1310.29 2479.73 1315.05 2479.73 1319.81 2479.73C1324.57 2479.72 1329.33 2479.72 1334.1 2479.72C1338.86 2479.72 1343.62 2479.72 1348.38 2479.72C1353.14 2479.72 1357.9 2479.72 1362.67 2479.72C1367.43 2479.72 1372.19 2479.72 1376.95 2479.72C1381.71 2479.72 1386.48 2479.72 1391.24 2479.72C1396 2479.72 1400.76 2479.72 1405.52 2479.72C1410.29 2479.72 1415.05 2479.71 1419.81 2479.71C1424.57 2479.71 1429.33 2479.71 1434.1 2479.71C1438.86 2479.71 1443.62 2479.71 1448.38 2479.71C1453.14 2479.71 1457.9 2479.71 1462.67 2479.71C1467.43 2479.71 1474.57 2479.71 1476.95 2479.71"/></g>
<g class="axes ax3">
<line class="v" x1="220" y1="2395.2" x2="220" y2="3397.8"/>
<line class="h" x1="210" y1="3385.8" x2="1549.5" y2="3385.8"/>
<line class="h" x1="200.5" y1="2479.7" x2="220" y2="2479.7"/>
<line class="h" x1="200.5" y1="2644.9" x2="220" y2="2644.9"/>
<line class="h" x1="200.5" y1="2810.1" x2="220" y2="2810.1"/>
<line class="h" x1="200.5" y1="2975.3" x2="220" y2="2975.3"/>
<line class="h" x1="200.5" y1="3140.5" x2="220" y2="3140.5"/>
<line class="h" x1="200.5" y1="3305.7" x2="220" y2="3305.7"/>
<line class="h" x1="210" y1="2397.1" x2="220" y2="2397.1"/>
<line class="h" x1="210" y1="2562.3" x2="220" y2="2562.3"/>
<line class="h" x1="210" y1="2727.5" x2="220" y2="2727.5"/>
<line class="h" x1="210" y1="2892.7" x2="220" y2="2892.7"/>
<line class="h" x1="210" y1="3057.9" x2="220" y2="3057.9"/>
<line class="h" x1="210" y1="3223.1" x2="220" y2="3223.1"/>
<line class="v" x1="314.8" y1="3385.8" x2="314.8" y2="3406.8"/>
<line class="v" x1="504.4" y1="3385.8" x2="504.4" y2="3406.8"/>
<line class="v" x1="694" y1="3385.8" x2="694" y2="3406.8"/>
<line class="v" x1="883.6" y1="3385.8" x2="883.6" y2="3406.8"/>
<line class="v" x1="1073.2" y1="3385.8" x2="1073.2" y2="3406.8"/>
<line class="v" x1="1262.8" y1="3385.8" x2="1262.8" y2="3406.8"/>
<line class="v" x1="1452.4" y1="3385.8" x2="1452.4" y2="3406.8"/>
<line class="v" x1="409.6" y1="3385.8" x2="409.6" y2="3397.8"/>
<line class="v" x1="599.2" y1="3385.8" x2="599.2" y2="3397.8"/>
<line class="v" x1="788.8" y1="3385.8" x2="788.8" y2="3397.8"/>
<line class="v" x1="978.4" y1="3385.8" x2="978.4" y2="3397.8"/>
<line class="v" x1="1168" y1="3385.8" x2="1168" y2="3397.8"/>
<line class="v" x1="1357.6" y1="3385.8" x2="1357.6" y2="3397.8"/>
<line class="v" x1="1547.2" y1="3385.8" x2="1547.2" y2="3397.8"/>
</g>
<g class="ticklabels" font-size="36.5">
<text x="186.5" y="2490.2" text-anchor="end">1.00</text>
<text x="186.5" y="2655.4" text-anchor="end">0.98</text>
<text x="186.5" y="2820.6" text-anchor="end">0.96</text>
<text x="186.5" y="2985.8" text-anchor="end">0.94</text>
<text x="186.5" y="3151" text-anchor="end">0.92</text>
<text x="186.5" y="3316.2" text-anchor="end">0.90</text>
<text x="314.8" y="3449.3" text-anchor="middle">-6</text>
<text x="504.4" y="3449.3" text-anchor="middle">-4</text>
<text x="694" y="3449.3" text-anchor="middle">-2</text>
<text x="883.6" y="3449.3" text-anchor="middle">0</text>
<text x="1073.2" y="3449.3" text-anchor="middle">2</text>
<text x="1262.8" y="3449.3" text-anchor="middle">4</text>
<text x="1452.4" y="3449.3" text-anchor="middle">6</text>
</g>
<text class="title" font-size="46.2" x="882.8" y="3522.2" text-anchor="middle" textLength="282.3" lengthAdjust="spacingAndGlyphs">velocity mm/s</text>
<text class="title" font-size="46.2" text-anchor="middle" transform="translate(80.8 2923) rotate(-90)" style="white-space:pre">relative  transmission</text>
</g>
</svg>
</body>
</html>
